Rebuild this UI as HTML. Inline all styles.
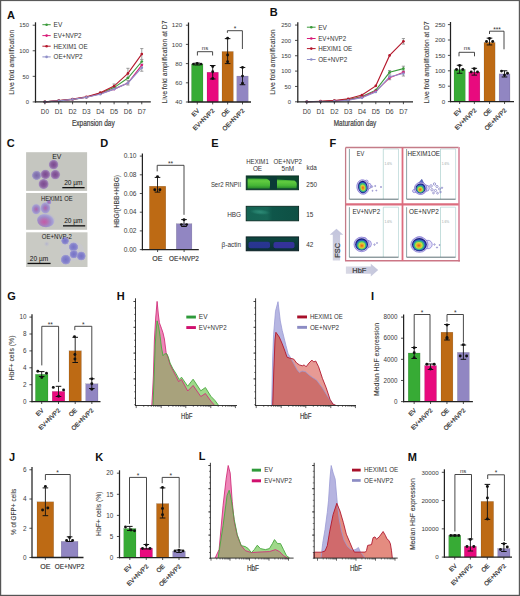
<!DOCTYPE html>
<html><head><meta charset="utf-8"><title>Figure</title>
<style>html,body{margin:0;padding:0;background:#fff;width:520px;height:596px;overflow:hidden}
svg{display:block}text{font-family:"Liberation Sans",sans-serif}</style></head>
<body>
<svg width="520" height="596" viewBox="0 0 520 596" font-family="Liberation Sans, sans-serif">
<rect x="0" y="0" width="520" height="596" fill="#fff" stroke="none" stroke-width="0"/>
<path d="M44.9 101.9 L58.74 100.88 L72.58 99.34 L86.42 97.3 L100.26 93.21 L114.1 87.58 L127.94 78.02 L141.78 61.51" fill="none" stroke="#3a9a3a" stroke-width="1.1"/>
<path d="M44.9 101.9 L58.74 100.88 L72.58 99.34 L86.42 97.3 L100.26 93.72 L114.1 89.12 L127.94 82.98 L141.78 65.09" fill="none" stroke="#d81b78" stroke-width="1.1"/>
<path d="M44.9 101.9 L58.74 100.62 L72.58 99.09 L86.42 96.79 L100.26 92.7 L114.1 86.05 L127.94 73.42 L141.78 54.09" fill="none" stroke="#b4182c" stroke-width="1.1"/>
<path d="M44.9 101.9 L58.74 100.88 L72.58 99.34 L86.42 97.3 L100.26 94.23 L114.1 89.12 L127.94 82.98 L141.78 67.64" fill="none" stroke="#8f8fc8" stroke-width="1.1"/>
<line x1="141.78" y1="59.46" x2="141.78" y2="48.57" stroke="#777" stroke-width="0.7"/>
<line x1="140.18" y1="59.46" x2="143.38" y2="59.46" stroke="#777" stroke-width="0.7"/>
<line x1="140.18" y1="48.57" x2="143.38" y2="48.57" stroke="#777" stroke-width="0.7"/>
<line x1="141.78" y1="71.22" x2="141.78" y2="64.06" stroke="#777" stroke-width="0.7"/>
<line x1="140.18" y1="71.22" x2="143.38" y2="71.22" stroke="#777" stroke-width="0.7"/>
<line x1="140.18" y1="64.06" x2="143.38" y2="64.06" stroke="#777" stroke-width="0.7"/>
<line x1="127.94" y1="77.36" x2="127.94" y2="68.31" stroke="#777" stroke-width="0.7"/>
<line x1="126.34" y1="77.36" x2="129.54" y2="77.36" stroke="#777" stroke-width="0.7"/>
<line x1="126.34" y1="68.31" x2="129.54" y2="68.31" stroke="#777" stroke-width="0.7"/>
<line x1="127.94" y1="85.03" x2="127.94" y2="80.43" stroke="#777" stroke-width="0.7"/>
<line x1="126.34" y1="85.03" x2="129.54" y2="85.03" stroke="#777" stroke-width="0.7"/>
<line x1="126.34" y1="80.43" x2="129.54" y2="80.43" stroke="#777" stroke-width="0.7"/>
<line x1="114.1" y1="87.58" x2="114.1" y2="84" stroke="#777" stroke-width="0.7"/>
<line x1="112.5" y1="87.58" x2="115.7" y2="87.58" stroke="#777" stroke-width="0.7"/>
<line x1="112.5" y1="84" x2="115.7" y2="84" stroke="#777" stroke-width="0.7"/>
<circle cx="44.9" cy="101.9" r="1.35" fill="#3a9a3a"/>
<circle cx="58.74" cy="100.88" r="1.35" fill="#3a9a3a"/>
<circle cx="72.58" cy="99.34" r="1.35" fill="#3a9a3a"/>
<circle cx="86.42" cy="97.3" r="1.35" fill="#3a9a3a"/>
<circle cx="100.26" cy="93.21" r="1.35" fill="#3a9a3a"/>
<circle cx="114.1" cy="87.58" r="1.35" fill="#3a9a3a"/>
<circle cx="127.94" cy="78.02" r="1.35" fill="#3a9a3a"/>
<circle cx="141.78" cy="61.51" r="1.35" fill="#3a9a3a"/>
<circle cx="44.9" cy="101.9" r="1.35" fill="#d81b78"/>
<circle cx="58.74" cy="100.88" r="1.35" fill="#d81b78"/>
<circle cx="72.58" cy="99.34" r="1.35" fill="#d81b78"/>
<circle cx="86.42" cy="97.3" r="1.35" fill="#d81b78"/>
<circle cx="100.26" cy="93.72" r="1.35" fill="#d81b78"/>
<circle cx="114.1" cy="89.12" r="1.35" fill="#d81b78"/>
<circle cx="127.94" cy="82.98" r="1.35" fill="#d81b78"/>
<circle cx="141.78" cy="65.09" r="1.35" fill="#d81b78"/>
<circle cx="44.9" cy="101.9" r="1.35" fill="#b4182c"/>
<circle cx="58.74" cy="100.62" r="1.35" fill="#b4182c"/>
<circle cx="72.58" cy="99.09" r="1.35" fill="#b4182c"/>
<circle cx="86.42" cy="96.79" r="1.35" fill="#b4182c"/>
<circle cx="100.26" cy="92.7" r="1.35" fill="#b4182c"/>
<circle cx="114.1" cy="86.05" r="1.35" fill="#b4182c"/>
<circle cx="127.94" cy="73.42" r="1.35" fill="#b4182c"/>
<circle cx="141.78" cy="54.09" r="1.35" fill="#b4182c"/>
<circle cx="44.9" cy="101.9" r="1.35" fill="#8f8fc8"/>
<circle cx="58.74" cy="100.88" r="1.35" fill="#8f8fc8"/>
<circle cx="72.58" cy="99.34" r="1.35" fill="#8f8fc8"/>
<circle cx="86.42" cy="97.3" r="1.35" fill="#8f8fc8"/>
<circle cx="100.26" cy="94.23" r="1.35" fill="#8f8fc8"/>
<circle cx="114.1" cy="89.12" r="1.35" fill="#8f8fc8"/>
<circle cx="127.94" cy="82.98" r="1.35" fill="#8f8fc8"/>
<circle cx="141.78" cy="67.64" r="1.35" fill="#8f8fc8"/>
<line x1="35.5" y1="22.3" x2="35.5" y2="102.5" stroke="#222" stroke-width="1.25"/>
<line x1="34.9" y1="101.9" x2="150.8" y2="101.9" stroke="#222" stroke-width="1.3"/>
<line x1="32.7" y1="101.9" x2="35.5" y2="101.9" stroke="#222" stroke-width="0.8"/>
<text x="29" y="104.1" font-size="6.2" text-anchor="end" fill="#3a3a3a" font-weight="normal" textLength="3.25" lengthAdjust="spacingAndGlyphs">0</text>
<line x1="32.7" y1="76.34" x2="35.5" y2="76.34" stroke="#222" stroke-width="0.8"/>
<text x="29" y="78.54" font-size="6.2" text-anchor="end" fill="#3a3a3a" font-weight="normal" textLength="6.5" lengthAdjust="spacingAndGlyphs">50</text>
<line x1="32.7" y1="50.77" x2="35.5" y2="50.77" stroke="#222" stroke-width="0.8"/>
<text x="29" y="52.97" font-size="6.2" text-anchor="end" fill="#3a3a3a" font-weight="normal" textLength="9.75" lengthAdjust="spacingAndGlyphs">100</text>
<line x1="32.7" y1="25.21" x2="35.5" y2="25.21" stroke="#222" stroke-width="0.8"/>
<text x="29" y="27.41" font-size="6.2" text-anchor="end" fill="#3a3a3a" font-weight="normal" textLength="9.75" lengthAdjust="spacingAndGlyphs">150</text>
<line x1="44.9" y1="101.9" x2="44.9" y2="104.3" stroke="#222" stroke-width="0.8"/>
<text x="44.9" y="113.7" font-size="6.4" text-anchor="middle" fill="#3a3a3a" font-weight="normal">D0</text>
<line x1="58.74" y1="101.9" x2="58.74" y2="104.3" stroke="#222" stroke-width="0.8"/>
<text x="58.74" y="113.7" font-size="6.4" text-anchor="middle" fill="#3a3a3a" font-weight="normal">D1</text>
<line x1="72.58" y1="101.9" x2="72.58" y2="104.3" stroke="#222" stroke-width="0.8"/>
<text x="72.58" y="113.7" font-size="6.4" text-anchor="middle" fill="#3a3a3a" font-weight="normal">D2</text>
<line x1="86.42" y1="101.9" x2="86.42" y2="104.3" stroke="#222" stroke-width="0.8"/>
<text x="86.42" y="113.7" font-size="6.4" text-anchor="middle" fill="#3a3a3a" font-weight="normal">D3</text>
<line x1="100.26" y1="101.9" x2="100.26" y2="104.3" stroke="#222" stroke-width="0.8"/>
<text x="100.26" y="113.7" font-size="6.4" text-anchor="middle" fill="#3a3a3a" font-weight="normal">D4</text>
<line x1="114.1" y1="101.9" x2="114.1" y2="104.3" stroke="#222" stroke-width="0.8"/>
<text x="114.1" y="113.7" font-size="6.4" text-anchor="middle" fill="#3a3a3a" font-weight="normal">D5</text>
<line x1="127.94" y1="101.9" x2="127.94" y2="104.3" stroke="#222" stroke-width="0.8"/>
<text x="127.94" y="113.7" font-size="6.4" text-anchor="middle" fill="#3a3a3a" font-weight="normal">D6</text>
<line x1="141.78" y1="101.9" x2="141.78" y2="104.3" stroke="#222" stroke-width="0.8"/>
<text x="141.78" y="113.7" font-size="6.4" text-anchor="middle" fill="#3a3a3a" font-weight="normal">D7</text>
<line x1="42.4" y1="24.7" x2="50.7" y2="24.7" stroke="#3a9a3a" stroke-width="1"/>
<circle cx="46.6" cy="24.7" r="1.3" fill="#3a9a3a"/>
<text x="53.6" y="27.05" font-size="6.5" text-anchor="start" fill="#333" font-weight="normal">EV</text>
<line x1="42.4" y1="35.6" x2="50.7" y2="35.6" stroke="#d81b78" stroke-width="1"/>
<circle cx="46.6" cy="35.6" r="1.3" fill="#d81b78"/>
<text x="53.6" y="37.95" font-size="6.5" text-anchor="start" fill="#333" font-weight="normal" textLength="27.9" lengthAdjust="spacingAndGlyphs">EV+NVP2</text>
<line x1="42.4" y1="46.2" x2="50.7" y2="46.2" stroke="#b4182c" stroke-width="1"/>
<circle cx="46.6" cy="46.2" r="1.3" fill="#b4182c"/>
<text x="53.6" y="48.55" font-size="6.5" text-anchor="start" fill="#333" font-weight="normal" textLength="34" lengthAdjust="spacingAndGlyphs">HEXIM1 OE</text>
<line x1="42.4" y1="56.9" x2="50.7" y2="56.9" stroke="#8f8fc8" stroke-width="1"/>
<circle cx="46.6" cy="56.9" r="1.3" fill="#8f8fc8"/>
<text x="53.6" y="59.25" font-size="6.5" text-anchor="start" fill="#333" font-weight="normal" textLength="29" lengthAdjust="spacingAndGlyphs">OE+NVP2</text>
<text x="93.3" y="125.5" font-size="8.6" text-anchor="middle" fill="#444" font-weight="normal" textLength="42.7" lengthAdjust="spacingAndGlyphs" stroke="#444" stroke-width="0.24">Expansion day</text>
<text transform="translate(13.6,62.3) rotate(-90)" font-size="8" text-anchor="middle" fill="#3a3a3a" font-weight="normal" textLength="65" lengthAdjust="spacingAndGlyphs" stroke="#3a3a3a" stroke-width="0.1">Live fold amplification</text>
<text x="7" y="18.6" font-size="11" text-anchor="start" fill="#111" font-weight="bold">A</text>
<path d="M306.8 101.8 L320.6 101.49 L334.4 100.88 L348.2 99.65 L362 96.58 L375.8 90.13 L389.6 72.33 L403.4 68.64" fill="none" stroke="#3a9a3a" stroke-width="1.1"/>
<path d="M306.8 101.8 L320.6 101.49 L334.4 100.88 L348.2 99.96 L362 97.19 L375.8 91.05 L389.6 77.85 L403.4 72.33" fill="none" stroke="#d81b78" stroke-width="1.1"/>
<path d="M306.8 101.8 L320.6 101.19 L334.4 100.57 L348.2 98.73 L362 95.05 L375.8 85.84 L389.6 55.44 L403.4 41.32" fill="none" stroke="#b4182c" stroke-width="1.1"/>
<path d="M306.8 101.8 L320.6 101.49 L334.4 101.19 L348.2 100.27 L362 97.81 L375.8 91.98 L389.6 76.63 L403.4 73.56" fill="none" stroke="#8f8fc8" stroke-width="1.1"/>
<line x1="403.4" y1="44.08" x2="403.4" y2="38.56" stroke="#777" stroke-width="0.7"/>
<line x1="401.8" y1="44.08" x2="405" y2="44.08" stroke="#777" stroke-width="0.7"/>
<line x1="401.8" y1="38.56" x2="405" y2="38.56" stroke="#777" stroke-width="0.7"/>
<line x1="403.4" y1="71.1" x2="403.4" y2="66.19" stroke="#777" stroke-width="0.7"/>
<line x1="401.8" y1="71.1" x2="405" y2="71.1" stroke="#777" stroke-width="0.7"/>
<line x1="401.8" y1="66.19" x2="405" y2="66.19" stroke="#777" stroke-width="0.7"/>
<line x1="403.4" y1="76.01" x2="403.4" y2="71.1" stroke="#777" stroke-width="0.7"/>
<line x1="401.8" y1="76.01" x2="405" y2="76.01" stroke="#777" stroke-width="0.7"/>
<line x1="401.8" y1="71.1" x2="405" y2="71.1" stroke="#777" stroke-width="0.7"/>
<line x1="389.6" y1="74.17" x2="389.6" y2="70.49" stroke="#777" stroke-width="0.7"/>
<line x1="388" y1="74.17" x2="391.2" y2="74.17" stroke="#777" stroke-width="0.7"/>
<line x1="388" y1="70.49" x2="391.2" y2="70.49" stroke="#777" stroke-width="0.7"/>
<line x1="389.6" y1="79.7" x2="389.6" y2="76.01" stroke="#777" stroke-width="0.7"/>
<line x1="388" y1="79.7" x2="391.2" y2="79.7" stroke="#777" stroke-width="0.7"/>
<line x1="388" y1="76.01" x2="391.2" y2="76.01" stroke="#777" stroke-width="0.7"/>
<circle cx="306.8" cy="101.8" r="1.35" fill="#3a9a3a"/>
<circle cx="320.6" cy="101.49" r="1.35" fill="#3a9a3a"/>
<circle cx="334.4" cy="100.88" r="1.35" fill="#3a9a3a"/>
<circle cx="348.2" cy="99.65" r="1.35" fill="#3a9a3a"/>
<circle cx="362" cy="96.58" r="1.35" fill="#3a9a3a"/>
<circle cx="375.8" cy="90.13" r="1.35" fill="#3a9a3a"/>
<circle cx="389.6" cy="72.33" r="1.35" fill="#3a9a3a"/>
<circle cx="403.4" cy="68.64" r="1.35" fill="#3a9a3a"/>
<circle cx="306.8" cy="101.8" r="1.35" fill="#d81b78"/>
<circle cx="320.6" cy="101.49" r="1.35" fill="#d81b78"/>
<circle cx="334.4" cy="100.88" r="1.35" fill="#d81b78"/>
<circle cx="348.2" cy="99.96" r="1.35" fill="#d81b78"/>
<circle cx="362" cy="97.19" r="1.35" fill="#d81b78"/>
<circle cx="375.8" cy="91.05" r="1.35" fill="#d81b78"/>
<circle cx="389.6" cy="77.85" r="1.35" fill="#d81b78"/>
<circle cx="403.4" cy="72.33" r="1.35" fill="#d81b78"/>
<circle cx="306.8" cy="101.8" r="1.35" fill="#b4182c"/>
<circle cx="320.6" cy="101.19" r="1.35" fill="#b4182c"/>
<circle cx="334.4" cy="100.57" r="1.35" fill="#b4182c"/>
<circle cx="348.2" cy="98.73" r="1.35" fill="#b4182c"/>
<circle cx="362" cy="95.05" r="1.35" fill="#b4182c"/>
<circle cx="375.8" cy="85.84" r="1.35" fill="#b4182c"/>
<circle cx="389.6" cy="55.44" r="1.35" fill="#b4182c"/>
<circle cx="403.4" cy="41.32" r="1.35" fill="#b4182c"/>
<circle cx="306.8" cy="101.8" r="1.35" fill="#8f8fc8"/>
<circle cx="320.6" cy="101.49" r="1.35" fill="#8f8fc8"/>
<circle cx="334.4" cy="101.19" r="1.35" fill="#8f8fc8"/>
<circle cx="348.2" cy="100.27" r="1.35" fill="#8f8fc8"/>
<circle cx="362" cy="97.81" r="1.35" fill="#8f8fc8"/>
<circle cx="375.8" cy="91.98" r="1.35" fill="#8f8fc8"/>
<circle cx="389.6" cy="76.63" r="1.35" fill="#8f8fc8"/>
<circle cx="403.4" cy="73.56" r="1.35" fill="#8f8fc8"/>
<line x1="297.8" y1="22.2" x2="297.8" y2="102.4" stroke="#222" stroke-width="1.25"/>
<line x1="297.2" y1="101.8" x2="413" y2="101.8" stroke="#222" stroke-width="1.3"/>
<line x1="295" y1="101.8" x2="297.8" y2="101.8" stroke="#222" stroke-width="0.8"/>
<text x="290.9" y="104" font-size="6.2" text-anchor="end" fill="#3a3a3a" font-weight="normal" textLength="3.25" lengthAdjust="spacingAndGlyphs">0</text>
<line x1="295" y1="86.45" x2="297.8" y2="86.45" stroke="#222" stroke-width="0.8"/>
<text x="290.9" y="88.65" font-size="6.2" text-anchor="end" fill="#3a3a3a" font-weight="normal" textLength="6.5" lengthAdjust="spacingAndGlyphs">50</text>
<line x1="295" y1="71.1" x2="297.8" y2="71.1" stroke="#222" stroke-width="0.8"/>
<text x="290.9" y="73.3" font-size="6.2" text-anchor="end" fill="#3a3a3a" font-weight="normal" textLength="9.75" lengthAdjust="spacingAndGlyphs">100</text>
<line x1="295" y1="55.75" x2="297.8" y2="55.75" stroke="#222" stroke-width="0.8"/>
<text x="290.9" y="57.95" font-size="6.2" text-anchor="end" fill="#3a3a3a" font-weight="normal" textLength="9.75" lengthAdjust="spacingAndGlyphs">150</text>
<line x1="295" y1="40.4" x2="297.8" y2="40.4" stroke="#222" stroke-width="0.8"/>
<text x="290.9" y="42.6" font-size="6.2" text-anchor="end" fill="#3a3a3a" font-weight="normal" textLength="9.75" lengthAdjust="spacingAndGlyphs">200</text>
<line x1="295" y1="25.05" x2="297.8" y2="25.05" stroke="#222" stroke-width="0.8"/>
<text x="290.9" y="27.25" font-size="6.2" text-anchor="end" fill="#3a3a3a" font-weight="normal" textLength="9.75" lengthAdjust="spacingAndGlyphs">250</text>
<line x1="306.8" y1="101.8" x2="306.8" y2="104.2" stroke="#222" stroke-width="0.8"/>
<text x="306.8" y="113.6" font-size="6.4" text-anchor="middle" fill="#3a3a3a" font-weight="normal">D0</text>
<line x1="320.6" y1="101.8" x2="320.6" y2="104.2" stroke="#222" stroke-width="0.8"/>
<text x="320.6" y="113.6" font-size="6.4" text-anchor="middle" fill="#3a3a3a" font-weight="normal">D1</text>
<line x1="334.4" y1="101.8" x2="334.4" y2="104.2" stroke="#222" stroke-width="0.8"/>
<text x="334.4" y="113.6" font-size="6.4" text-anchor="middle" fill="#3a3a3a" font-weight="normal">D2</text>
<line x1="348.2" y1="101.8" x2="348.2" y2="104.2" stroke="#222" stroke-width="0.8"/>
<text x="348.2" y="113.6" font-size="6.4" text-anchor="middle" fill="#3a3a3a" font-weight="normal">D3</text>
<line x1="362" y1="101.8" x2="362" y2="104.2" stroke="#222" stroke-width="0.8"/>
<text x="362" y="113.6" font-size="6.4" text-anchor="middle" fill="#3a3a3a" font-weight="normal">D4</text>
<line x1="375.8" y1="101.8" x2="375.8" y2="104.2" stroke="#222" stroke-width="0.8"/>
<text x="375.8" y="113.6" font-size="6.4" text-anchor="middle" fill="#3a3a3a" font-weight="normal">D5</text>
<line x1="389.6" y1="101.8" x2="389.6" y2="104.2" stroke="#222" stroke-width="0.8"/>
<text x="389.6" y="113.6" font-size="6.4" text-anchor="middle" fill="#3a3a3a" font-weight="normal">D6</text>
<line x1="403.4" y1="101.8" x2="403.4" y2="104.2" stroke="#222" stroke-width="0.8"/>
<text x="403.4" y="113.6" font-size="6.4" text-anchor="middle" fill="#3a3a3a" font-weight="normal">D7</text>
<line x1="306.9" y1="27.2" x2="315.6" y2="27.2" stroke="#3a9a3a" stroke-width="1"/>
<circle cx="311.3" cy="27.2" r="1.3" fill="#3a9a3a"/>
<text x="318.2" y="29.55" font-size="6.5" text-anchor="start" fill="#333" font-weight="normal">EV</text>
<line x1="306.9" y1="38.5" x2="315.6" y2="38.5" stroke="#d81b78" stroke-width="1"/>
<circle cx="311.3" cy="38.5" r="1.3" fill="#d81b78"/>
<text x="318.2" y="40.85" font-size="6.5" text-anchor="start" fill="#333" font-weight="normal" textLength="27.9" lengthAdjust="spacingAndGlyphs">EV+NVP2</text>
<line x1="306.9" y1="48.6" x2="315.6" y2="48.6" stroke="#b4182c" stroke-width="1"/>
<circle cx="311.3" cy="48.6" r="1.3" fill="#b4182c"/>
<text x="318.2" y="50.95" font-size="6.5" text-anchor="start" fill="#333" font-weight="normal" textLength="34" lengthAdjust="spacingAndGlyphs">HEXIM1 OE</text>
<line x1="306.9" y1="59.5" x2="315.6" y2="59.5" stroke="#8f8fc8" stroke-width="1"/>
<circle cx="311.3" cy="59.5" r="1.3" fill="#8f8fc8"/>
<text x="318.2" y="61.85" font-size="6.5" text-anchor="start" fill="#333" font-weight="normal" textLength="29" lengthAdjust="spacingAndGlyphs">OE+NVP2</text>
<text x="355" y="125.5" font-size="8.6" text-anchor="middle" fill="#444" font-weight="normal" textLength="42.5" lengthAdjust="spacingAndGlyphs" stroke="#444" stroke-width="0.24">Maturation day</text>
<text transform="translate(275.3,62.1) rotate(-90)" font-size="8" text-anchor="middle" fill="#3a3a3a" font-weight="normal" textLength="65.4" lengthAdjust="spacingAndGlyphs" stroke="#3a3a3a" stroke-width="0.1">Live fold amplification</text>
<text x="269.8" y="15.9" font-size="11" text-anchor="start" fill="#111" font-weight="bold">B</text>
<rect x="191.5" y="63.98" width="11.5" height="38.02" fill="#37ab35" stroke="rgba(0,0,0,0.25)" stroke-width="0.4"/>
<rect x="207" y="72.24" width="11.4" height="29.76" fill="#e80a7e" stroke="rgba(0,0,0,0.25)" stroke-width="0.4"/>
<rect x="222" y="51.5" width="11.3" height="50.5" fill="#bd6a14" stroke="rgba(0,0,0,0.25)" stroke-width="0.4"/>
<rect x="236.8" y="76.08" width="11.4" height="25.92" fill="#9186c2" stroke="rgba(0,0,0,0.25)" stroke-width="0.4"/>
<line x1="197.2" y1="63.12" x2="197.2" y2="65.04" stroke="#111" stroke-width="0.9"/>
<line x1="194.4" y1="63.12" x2="200" y2="63.12" stroke="#111" stroke-width="1"/>
<line x1="194.4" y1="65.04" x2="200" y2="65.04" stroke="#111" stroke-width="1"/>
<circle cx="193.5" cy="64.08" r="1.45" fill="#111"/>
<circle cx="197.2" cy="63.41" r="1.45" fill="#111"/>
<circle cx="201" cy="64.08" r="1.45" fill="#111"/>
<line x1="212.7" y1="65.52" x2="212.7" y2="78.96" stroke="#111" stroke-width="0.9"/>
<line x1="209.9" y1="65.52" x2="215.5" y2="65.52" stroke="#111" stroke-width="1"/>
<line x1="209.9" y1="78.96" x2="215.5" y2="78.96" stroke="#111" stroke-width="1"/>
<circle cx="212.7" cy="66.48" r="1.45" fill="#111"/>
<circle cx="212.7" cy="71.76" r="1.45" fill="#111"/>
<circle cx="212.7" cy="78.48" r="1.45" fill="#111"/>
<line x1="227.6" y1="38.64" x2="227.6" y2="63.6" stroke="#111" stroke-width="0.9"/>
<line x1="224.8" y1="38.64" x2="230.4" y2="38.64" stroke="#111" stroke-width="1"/>
<line x1="224.8" y1="63.6" x2="230.4" y2="63.6" stroke="#111" stroke-width="1"/>
<circle cx="227.6" cy="38.16" r="1.45" fill="#111"/>
<circle cx="227.6" cy="54.96" r="1.45" fill="#111"/>
<circle cx="227.6" cy="61.68" r="1.45" fill="#111"/>
<line x1="242.5" y1="67.44" x2="242.5" y2="84.72" stroke="#111" stroke-width="0.9"/>
<line x1="239.7" y1="67.44" x2="245.3" y2="67.44" stroke="#111" stroke-width="1"/>
<line x1="239.7" y1="84.72" x2="245.3" y2="84.72" stroke="#111" stroke-width="1"/>
<circle cx="242.5" cy="67.44" r="1.45" fill="#111"/>
<circle cx="242.5" cy="76.08" r="1.45" fill="#111"/>
<circle cx="242.5" cy="83.28" r="1.45" fill="#111"/>
<line x1="188.5" y1="22.5" x2="188.5" y2="102.6" stroke="#222" stroke-width="1.25"/>
<line x1="187.9" y1="102" x2="251" y2="102" stroke="#222" stroke-width="1.3"/>
<line x1="185.9" y1="102" x2="188.5" y2="102" stroke="#222" stroke-width="0.8"/>
<text x="182.2" y="104.25" font-size="6.2" text-anchor="end" fill="#3a3a3a" font-weight="normal">40</text>
<line x1="185.9" y1="82.8" x2="188.5" y2="82.8" stroke="#222" stroke-width="0.8"/>
<text x="182.2" y="85.05" font-size="6.2" text-anchor="end" fill="#3a3a3a" font-weight="normal">60</text>
<line x1="185.9" y1="63.6" x2="188.5" y2="63.6" stroke="#222" stroke-width="0.8"/>
<text x="182.2" y="65.85" font-size="6.2" text-anchor="end" fill="#3a3a3a" font-weight="normal">80</text>
<line x1="185.9" y1="44.4" x2="188.5" y2="44.4" stroke="#222" stroke-width="0.8"/>
<text x="182.2" y="46.65" font-size="6.2" text-anchor="end" fill="#3a3a3a" font-weight="normal">100</text>
<line x1="185.9" y1="25.2" x2="188.5" y2="25.2" stroke="#222" stroke-width="0.8"/>
<text x="182.2" y="27.45" font-size="6.2" text-anchor="end" fill="#3a3a3a" font-weight="normal">120</text>
<line x1="197.25" y1="102" x2="197.25" y2="104.4" stroke="#222" stroke-width="0.8"/>
<line x1="212.7" y1="102" x2="212.7" y2="104.4" stroke="#222" stroke-width="0.8"/>
<line x1="227.65" y1="102" x2="227.65" y2="104.4" stroke="#222" stroke-width="0.8"/>
<line x1="242.5" y1="102" x2="242.5" y2="104.4" stroke="#222" stroke-width="0.8"/>
<path d="M197.4 55.5 L197.4 51.7 L212.6 51.7 L212.6 55.5" fill="none" stroke="#333" stroke-width="0.9"/>
<text x="205" y="49.8" font-size="6" text-anchor="middle" fill="#333" font-weight="normal">ns</text>
<path d="M227.4 32.8 L227.4 30.7 L242.4 30.7 L242.4 49" fill="none" stroke="#333" stroke-width="0.9"/>
<text x="235" y="31.2" font-size="6.6" text-anchor="middle" fill="#333" font-weight="normal">*</text>
<text transform="translate(199.8,111.2) rotate(-45)" font-size="6.1" text-anchor="end" fill="#333" font-weight="normal" stroke="#333" stroke-width="0.2">EV</text>
<text transform="translate(214.8,111.2) rotate(-45)" font-size="6.1" text-anchor="end" fill="#333" font-weight="normal" stroke="#333" stroke-width="0.2">EV+NVP2</text>
<text transform="translate(229.9,111.2) rotate(-45)" font-size="6.1" text-anchor="end" fill="#333" font-weight="normal" stroke="#333" stroke-width="0.2">OE</text>
<text transform="translate(244.8,111.2) rotate(-45)" font-size="6.1" text-anchor="end" fill="#333" font-weight="normal" stroke="#333" stroke-width="0.2">OE+NVP2</text>
<text transform="translate(166.7,62) rotate(-90)" font-size="8" text-anchor="middle" fill="#3a3a3a" font-weight="normal" textLength="83" lengthAdjust="spacingAndGlyphs" stroke="#3a3a3a" stroke-width="0.1">Live fold amplification at D7</text>
<rect x="454" y="69.57" width="11.3" height="32.03" fill="#37ab35" stroke="rgba(0,0,0,0.25)" stroke-width="0.4"/>
<rect x="468.8" y="72.03" width="11.1" height="29.57" fill="#e80a7e" stroke="rgba(0,0,0,0.25)" stroke-width="0.4"/>
<rect x="484" y="42.46" width="11.1" height="59.14" fill="#bd6a14" stroke="rgba(0,0,0,0.25)" stroke-width="0.4"/>
<rect x="499.1" y="73.88" width="10.9" height="27.72" fill="#9186c2" stroke="rgba(0,0,0,0.25)" stroke-width="0.4"/>
<line x1="459.6" y1="65.26" x2="459.6" y2="73.26" stroke="#111" stroke-width="0.9"/>
<line x1="456.8" y1="65.26" x2="462.4" y2="65.26" stroke="#111" stroke-width="1"/>
<line x1="456.8" y1="73.26" x2="462.4" y2="73.26" stroke="#111" stroke-width="1"/>
<circle cx="459.6" cy="65.56" r="1.45" fill="#111"/>
<circle cx="456.5" cy="69.57" r="1.45" fill="#111"/>
<circle cx="462.8" cy="69.57" r="1.45" fill="#111"/>
<line x1="474.3" y1="68.34" x2="474.3" y2="75.11" stroke="#111" stroke-width="0.9"/>
<line x1="471.5" y1="68.34" x2="477.1" y2="68.34" stroke="#111" stroke-width="1"/>
<line x1="471.5" y1="75.11" x2="477.1" y2="75.11" stroke="#111" stroke-width="1"/>
<circle cx="474.3" cy="68.64" r="1.45" fill="#111"/>
<circle cx="471.2" cy="72.03" r="1.45" fill="#111"/>
<circle cx="477.5" cy="72.03" r="1.45" fill="#111"/>
<line x1="489.5" y1="38.15" x2="489.5" y2="44.93" stroke="#111" stroke-width="0.9"/>
<line x1="486.7" y1="38.15" x2="492.3" y2="38.15" stroke="#111" stroke-width="1"/>
<line x1="486.7" y1="44.93" x2="492.3" y2="44.93" stroke="#111" stroke-width="1"/>
<circle cx="489.5" cy="38.46" r="1.45" fill="#111"/>
<circle cx="486.5" cy="41.54" r="1.45" fill="#111"/>
<circle cx="492.7" cy="41.54" r="1.45" fill="#111"/>
<line x1="504.5" y1="70.8" x2="504.5" y2="76.96" stroke="#111" stroke-width="0.9"/>
<line x1="501.7" y1="70.8" x2="507.3" y2="70.8" stroke="#111" stroke-width="1"/>
<line x1="501.7" y1="76.96" x2="507.3" y2="76.96" stroke="#111" stroke-width="1"/>
<circle cx="501.5" cy="71.11" r="1.45" fill="#111"/>
<circle cx="507.5" cy="73.26" r="1.45" fill="#111"/>
<circle cx="504.5" cy="75.11" r="1.45" fill="#111"/>
<line x1="450.5" y1="22" x2="450.5" y2="102.2" stroke="#222" stroke-width="1.25"/>
<line x1="449.9" y1="101.6" x2="514" y2="101.6" stroke="#222" stroke-width="1.3"/>
<line x1="447.9" y1="101.6" x2="450.5" y2="101.6" stroke="#222" stroke-width="0.8"/>
<text x="445.3" y="103.85" font-size="6.2" text-anchor="end" fill="#3a3a3a" font-weight="normal">0</text>
<line x1="447.9" y1="86.2" x2="450.5" y2="86.2" stroke="#222" stroke-width="0.8"/>
<text x="445.3" y="88.45" font-size="6.2" text-anchor="end" fill="#3a3a3a" font-weight="normal">50</text>
<line x1="447.9" y1="70.8" x2="450.5" y2="70.8" stroke="#222" stroke-width="0.8"/>
<text x="445.3" y="73.05" font-size="6.2" text-anchor="end" fill="#3a3a3a" font-weight="normal">100</text>
<line x1="447.9" y1="55.4" x2="450.5" y2="55.4" stroke="#222" stroke-width="0.8"/>
<text x="445.3" y="57.65" font-size="6.2" text-anchor="end" fill="#3a3a3a" font-weight="normal">150</text>
<line x1="447.9" y1="40" x2="450.5" y2="40" stroke="#222" stroke-width="0.8"/>
<text x="445.3" y="42.25" font-size="6.2" text-anchor="end" fill="#3a3a3a" font-weight="normal">200</text>
<line x1="447.9" y1="24.6" x2="450.5" y2="24.6" stroke="#222" stroke-width="0.8"/>
<text x="445.3" y="26.85" font-size="6.2" text-anchor="end" fill="#3a3a3a" font-weight="normal">250</text>
<line x1="459.65" y1="101.6" x2="459.65" y2="104" stroke="#222" stroke-width="0.8"/>
<line x1="474.35" y1="101.6" x2="474.35" y2="104" stroke="#222" stroke-width="0.8"/>
<line x1="489.55" y1="101.6" x2="489.55" y2="104" stroke="#222" stroke-width="0.8"/>
<line x1="504.55" y1="101.6" x2="504.55" y2="104" stroke="#222" stroke-width="0.8"/>
<path d="M459 56.3 L459 52.3 L474.5 52.3 L474.5 56.3" fill="none" stroke="#333" stroke-width="0.9"/>
<text x="467" y="50.2" font-size="6" text-anchor="middle" fill="#333" font-weight="normal">ns</text>
<path d="M489.5 34 L489.5 31.2 L504 31.2 L504 49.3" fill="none" stroke="#333" stroke-width="0.9"/>
<text x="497" y="31.6" font-size="6.6" text-anchor="middle" fill="#333" font-weight="normal">***</text>
<text transform="translate(462.1,110.8) rotate(-45)" font-size="6.1" text-anchor="end" fill="#333" font-weight="normal" stroke="#333" stroke-width="0.2">EV</text>
<text transform="translate(476.8,110.8) rotate(-45)" font-size="6.1" text-anchor="end" fill="#333" font-weight="normal" stroke="#333" stroke-width="0.2">EV+NVP2</text>
<text transform="translate(492,110.8) rotate(-45)" font-size="6.1" text-anchor="end" fill="#333" font-weight="normal" stroke="#333" stroke-width="0.2">OE</text>
<text transform="translate(507,110.8) rotate(-45)" font-size="6.1" text-anchor="end" fill="#333" font-weight="normal" stroke="#333" stroke-width="0.2">OE+NVP2</text>
<text transform="translate(428.6,62.5) rotate(-90)" font-size="8" text-anchor="middle" fill="#3a3a3a" font-weight="normal" textLength="82" lengthAdjust="spacingAndGlyphs" stroke="#3a3a3a" stroke-width="0.1">Live fold amplification at D7</text>
<text x="6.8" y="147.2" font-size="11" text-anchor="start" fill="#111" font-weight="bold">C</text>
<defs>
<radialGradient id="cellA" cx="50%" cy="50%" r="50%">
 <stop offset="0" stop-color="#7a4a90"/><stop offset="0.55" stop-color="#8a5e9e"/><stop offset="0.85" stop-color="#a086b8"/><stop offset="1" stop-color="#b4a6c6" stop-opacity="0.5"/></radialGradient>
<radialGradient id="cellB" cx="50%" cy="50%" r="50%">
 <stop offset="0" stop-color="#7a68a8"/><stop offset="0.6" stop-color="#8a7cb6"/><stop offset="0.9" stop-color="#a49ec6"/><stop offset="1" stop-color="#b6b2ca" stop-opacity="0.5"/></radialGradient>
<radialGradient id="cellH" cx="40%" cy="62%" r="60%">
 <stop offset="0" stop-color="#c45aa8"/><stop offset="0.3" stop-color="#b470b2"/><stop offset="0.6" stop-color="#9e8cc8"/><stop offset="0.85" stop-color="#a8a4d6"/><stop offset="1" stop-color="#b8b6d4" stop-opacity="0.4"/></radialGradient>
<radialGradient id="cellH2" cx="50%" cy="52%" r="50%">
 <stop offset="0" stop-color="#b460aa"/><stop offset="0.4" stop-color="#9c80c0"/><stop offset="0.8" stop-color="#a49ed2"/><stop offset="1" stop-color="#b8b6d0" stop-opacity="0.4"/></radialGradient>
<radialGradient id="cellN" cx="50%" cy="50%" r="50%">
 <stop offset="0" stop-color="#7672c6"/><stop offset="0.6" stop-color="#8582cc"/><stop offset="0.9" stop-color="#a09ed2"/><stop offset="1" stop-color="#bcbad2" stop-opacity="0.4"/></radialGradient>
<radialGradient id="cellF" cx="50%" cy="50%" r="50%">
 <stop offset="0" stop-color="#b2b2cc"/><stop offset="1" stop-color="#c4c4cc" stop-opacity="0"/></radialGradient>
</defs>
<defs><filter id="cb" x="-30%" y="-30%" width="160%" height="160%"><feGaussianBlur stdDeviation="0.55"/></filter></defs>
<rect x="26.1" y="152.2" width="61" height="38.7" fill="#c5c6c0" stroke="none" stroke-width="0"/>
<g filter="url(#cb)">
<circle cx="53.6" cy="164.6" r="5" fill="url(#cellA)"/>
<circle cx="36.6" cy="175.4" r="4.8" fill="url(#cellB)"/>
<circle cx="45.4" cy="174.4" r="5" fill="url(#cellA)"/>
<circle cx="55.3" cy="174.6" r="5" fill="url(#cellA)"/>
<circle cx="43.6" cy="184" r="5.3" fill="url(#cellA)"/>
</g>
<text x="56.8" y="158.8" font-size="6.85" text-anchor="middle" fill="#1a1a1a" font-weight="normal">EV</text>
<text x="73.3" y="185.4" font-size="6.8" text-anchor="middle" fill="#111" font-weight="normal" textLength="18.3" lengthAdjust="spacingAndGlyphs">20 &#181;m</text>
<rect x="62.3" y="187" width="22.3" height="1.3" fill="#111" stroke="none" stroke-width="0"/>
<rect x="26.1" y="193" width="61" height="36.8" fill="#c5c6c0" stroke="none" stroke-width="0"/>
<g filter="url(#cb)">
<ellipse cx="36.2" cy="209" rx="4.9" ry="5.5" fill="url(#cellH2)"/>
<ellipse cx="45.4" cy="207.8" rx="5.2" ry="6" fill="url(#cellH2)"/>
<ellipse cx="48.9" cy="202" rx="2.8" ry="2.8" fill="url(#cellH2)"/>
<ellipse cx="46" cy="220.2" rx="8.8" ry="7" fill="url(#cellH)"/>
</g>
<text x="56.8" y="200.6" font-size="6.85" text-anchor="middle" fill="#1a1a1a" font-weight="normal" textLength="31.5" lengthAdjust="spacingAndGlyphs">HEXIM1 OE</text>
<text x="73.3" y="222.8" font-size="6.8" text-anchor="middle" fill="#111" font-weight="normal" textLength="18.3" lengthAdjust="spacingAndGlyphs">20 &#181;m</text>
<rect x="63" y="225.2" width="22.2" height="1.3" fill="#111" stroke="none" stroke-width="0"/>
<rect x="26.1" y="232.3" width="61.4" height="34.7" fill="#c9cac4" stroke="none" stroke-width="0"/>
<circle cx="46.7" cy="243.9" r="3.2" fill="url(#cellF)"/>
<g filter="url(#cb)">
<ellipse cx="72" cy="251" rx="12" ry="10" fill="#c8c6d6" opacity="0.5"/>
<circle cx="65.1" cy="240.8" r="4" fill="url(#cellN)"/>
<circle cx="73.5" cy="247" r="4.8" fill="url(#cellN)"/>
<circle cx="73.8" cy="254.2" r="4.4" fill="url(#cellN)"/>
<circle cx="81.2" cy="256" r="4.7" fill="url(#cellN)"/>
<circle cx="65.8" cy="259.6" r="5.2" fill="url(#cellN)"/>
</g>
<text x="56.8" y="238.6" font-size="6.85" text-anchor="middle" fill="#1a1a1a" font-weight="normal" textLength="30" lengthAdjust="spacingAndGlyphs">OE+NVP-2</text>
<text x="39" y="261.3" font-size="6.8" text-anchor="middle" fill="#111" font-weight="normal" textLength="18.3" lengthAdjust="spacingAndGlyphs">20 &#181;m</text>
<rect x="27.5" y="262.8" width="23.1" height="1.3" fill="#111" stroke="none" stroke-width="0"/>
<text x="100.3" y="147.2" font-size="11" text-anchor="start" fill="#111" font-weight="bold">D</text>
<rect x="149.4" y="186.21" width="16.4" height="63.39" fill="#bd6a14" stroke="rgba(0,0,0,0.25)" stroke-width="0.4"/>
<rect x="176.3" y="223.7" width="15.6" height="25.9" fill="#9186c2" stroke="rgba(0,0,0,0.25)" stroke-width="0.4"/>
<line x1="157.5" y1="177.4" x2="157.5" y2="192.1" stroke="#111" stroke-width="0.9"/>
<line x1="154.7" y1="177.4" x2="160.3" y2="177.4" stroke="#111" stroke-width="1"/>
<line x1="154.7" y1="192.1" x2="160.3" y2="192.1" stroke="#111" stroke-width="1"/>
<circle cx="157.5" cy="176.6" r="1.45" fill="#111"/>
<circle cx="154.8" cy="189.7" r="1.45" fill="#111"/>
<circle cx="159.9" cy="189.7" r="1.45" fill="#111"/>
<line x1="184" y1="219.6" x2="184" y2="226.5" stroke="#111" stroke-width="0.9"/>
<line x1="181.2" y1="219.6" x2="186.8" y2="219.6" stroke="#111" stroke-width="1"/>
<line x1="181.2" y1="226.5" x2="186.8" y2="226.5" stroke="#111" stroke-width="1"/>
<circle cx="184" cy="219.8" r="1.45" fill="#111"/>
<circle cx="181.4" cy="224.6" r="1.45" fill="#111"/>
<circle cx="186.6" cy="224.6" r="1.45" fill="#111"/>
<line x1="142.4" y1="153.5" x2="142.4" y2="250.2" stroke="#222" stroke-width="1.25"/>
<line x1="141.8" y1="249.6" x2="198.8" y2="249.6" stroke="#222" stroke-width="1.3"/>
<line x1="139.8" y1="249.6" x2="142.4" y2="249.6" stroke="#222" stroke-width="0.8"/>
<text x="136.5" y="251.85" font-size="6.6" text-anchor="end" fill="#3a3a3a" font-weight="normal">0.00</text>
<line x1="139.8" y1="230.9" x2="142.4" y2="230.9" stroke="#222" stroke-width="0.8"/>
<text x="136.5" y="233.15" font-size="6.6" text-anchor="end" fill="#3a3a3a" font-weight="normal">0.02</text>
<line x1="139.8" y1="212.2" x2="142.4" y2="212.2" stroke="#222" stroke-width="0.8"/>
<text x="136.5" y="214.45" font-size="6.6" text-anchor="end" fill="#3a3a3a" font-weight="normal">0.04</text>
<line x1="139.8" y1="193.5" x2="142.4" y2="193.5" stroke="#222" stroke-width="0.8"/>
<text x="136.5" y="195.75" font-size="6.6" text-anchor="end" fill="#3a3a3a" font-weight="normal">0.06</text>
<line x1="139.8" y1="174.8" x2="142.4" y2="174.8" stroke="#222" stroke-width="0.8"/>
<text x="136.5" y="177.05" font-size="6.6" text-anchor="end" fill="#3a3a3a" font-weight="normal">0.08</text>
<line x1="139.8" y1="156.1" x2="142.4" y2="156.1" stroke="#222" stroke-width="0.8"/>
<text x="136.5" y="158.35" font-size="6.6" text-anchor="end" fill="#3a3a3a" font-weight="normal">0.10</text>
<line x1="157.6" y1="249.6" x2="157.6" y2="252" stroke="#222" stroke-width="0.8"/>
<line x1="184.1" y1="249.6" x2="184.1" y2="252" stroke="#222" stroke-width="0.8"/>
<path d="M157.2 171.4 L157.2 165.3 L184 165.3 L184 214.8" fill="none" stroke="#333" stroke-width="0.9"/>
<text x="170.6" y="165.9" font-size="6.6" text-anchor="middle" fill="#333" font-weight="normal">**</text>
<text x="157.3" y="261.4" font-size="7" text-anchor="middle" fill="#333" font-weight="normal" stroke="#333" stroke-width="0.15">OE</text>
<text x="183.9" y="261.4" font-size="7" text-anchor="middle" fill="#333" font-weight="normal" textLength="29.7" lengthAdjust="spacingAndGlyphs" stroke="#333" stroke-width="0.15">OE+NVP2</text>
<text transform="translate(119.4,201.4) rotate(-90)" font-size="7.8" text-anchor="middle" fill="#3a3a3a" font-weight="normal" textLength="52.9" lengthAdjust="spacingAndGlyphs" stroke="#3a3a3a" stroke-width="0.1">HBG/(HBB+HBG)</text>
<text x="211.2" y="147.3" font-size="11" text-anchor="start" fill="#111" font-weight="bold">E</text>
<defs>
<linearGradient id="bandG" x1="0" y1="0" x2="0" y2="1"><stop offset="0" stop-color="#3aa834"/><stop offset="0.25" stop-color="#62cc40"/><stop offset="0.7" stop-color="#46b636"/><stop offset="1" stop-color="#2a8a2c"/></linearGradient>
<linearGradient id="hbgG" x1="0" y1="0" x2="1" y2="0"><stop offset="0" stop-color="#146454"/><stop offset="0.4" stop-color="#176656"/><stop offset="0.5" stop-color="#0f564a"/><stop offset="1" stop-color="#0e5044"/></linearGradient>
<radialGradient id="hbgBand" cx="50%" cy="50%" r="50%"><stop offset="0" stop-color="#2f8c78"/><stop offset="0.6" stop-color="#24806c" stop-opacity="0.7"/><stop offset="1" stop-color="#1c7060" stop-opacity="0"/></radialGradient>
<radialGradient id="actB" cx="50%" cy="50%" r="50%"><stop offset="0" stop-color="#3430a8"/><stop offset="0.75" stop-color="#2c3296"/><stop offset="1" stop-color="#1c3a6a" stop-opacity="0"/></radialGradient>
</defs>
<text x="257.5" y="163.6" font-size="6.4" text-anchor="middle" fill="#333" font-weight="normal" textLength="22.5" lengthAdjust="spacingAndGlyphs">HEXIM1</text>
<text x="257.5" y="171" font-size="6.4" text-anchor="middle" fill="#333" font-weight="normal">OE</text>
<text x="287.8" y="163.6" font-size="6.4" text-anchor="middle" fill="#333" font-weight="normal" textLength="28.5" lengthAdjust="spacingAndGlyphs">OE+NVP2</text>
<text x="287.8" y="171" font-size="6.4" text-anchor="middle" fill="#333" font-weight="normal">5nM</text>
<text x="311.7" y="169.6" font-size="6.4" text-anchor="middle" fill="#333" font-weight="normal">kda</text>
<rect x="246.2" y="175.9" width="52.4" height="13.9" fill="#0c4630" stroke="#082a20" stroke-width="0.8"/>
<path d="M247.6 178.4 L266.5 178.8 Q270.2 180 270.3 183 L269.6 188.4 L247.6 188.4 Z" fill="url(#bandG)"/>
<rect x="270" y="176.3" width="7" height="13.2" fill="#0a3a36"/>
<path d="M277.0 179.6 L294.5 180.4 Q297 182 296.8 184 L296.5 188.2 L277.0 188.2 Z" fill="url(#bandG)"/>
<text x="241.1" y="187" font-size="6.4" text-anchor="end" fill="#333" font-weight="normal" textLength="30.2" lengthAdjust="spacingAndGlyphs">Ser2 RNPII</text>
<text x="311.7" y="187" font-size="6.4" text-anchor="middle" fill="#333" font-weight="normal">250</text>
<rect x="246.2" y="206.3" width="52.4" height="14.5" fill="url(#hbgG)" stroke="none" stroke-width="0"/>
<ellipse cx="260" cy="212.0" rx="10.5" ry="3.0" fill="url(#hbgBand)" transform="rotate(5 260 212)"/>
<rect x="246.2" y="206.3" width="52.4" height="14.5" fill="none" stroke="#082a22" stroke-width="0.9"/>
<text x="241.1" y="216.6" font-size="6.4" text-anchor="end" fill="#333" font-weight="normal">HBG</text>
<text x="309.7" y="216.6" font-size="6.4" text-anchor="middle" fill="#333" font-weight="normal">15</text>
<defs><linearGradient id="actBg" x1="0" y1="0" x2="0" y2="1"><stop offset="0" stop-color="#0e4840"/><stop offset="1" stop-color="#0b2e36"/></linearGradient></defs>
<rect x="246.2" y="236.9" width="52.4" height="13.9" fill="url(#actBg)" stroke="none" stroke-width="0"/>
<g filter="url(#cb)" opacity="0.85"><rect x="248.5" y="241.8" width="21.5" height="6.4" rx="2" fill="#2e34a0"/><rect x="273.5" y="242.0" width="21" height="6.2" rx="2" fill="#3a30aa"/></g>
<rect x="246.2" y="236.9" width="52.4" height="13.9" fill="none" stroke="#081c20" stroke-width="0.9"/>
<text x="241.1" y="246.9" font-size="6.4" text-anchor="end" fill="#333" font-weight="normal" textLength="19.6" lengthAdjust="spacingAndGlyphs">&#946;-actin</text>
<text x="309.7" y="246.9" font-size="6.4" text-anchor="middle" fill="#333" font-weight="normal">42</text>
<text x="329.4" y="147.3" font-size="11" text-anchor="start" fill="#111" font-weight="bold">F</text>
<defs>
<linearGradient id="arrV" x1="0" y1="1" x2="0" y2="0"><stop offset="0" stop-color="#d4d4e2"/><stop offset="1" stop-color="#c2c4dc"/></linearGradient>
<linearGradient id="arrH" x1="0" y1="0" x2="1" y2="0"><stop offset="0" stop-color="#d8d8e4"/><stop offset="1" stop-color="#c4c6dc"/></linearGradient>
</defs>
<defs><filter id="fb" x="-30%" y="-30%" width="160%" height="160%"><feGaussianBlur stdDeviation="0.35"/></filter></defs>
<line x1="383.3" y1="149" x2="398.5" y2="149" stroke="#a8cccc" stroke-width="0.6"/>
<line x1="398.5" y1="149" x2="398.5" y2="199.2" stroke="#a8cccc" stroke-width="0.6"/>
<line x1="383.3" y1="149" x2="383.3" y2="199.2" stroke="#9cc8c4" stroke-width="0.6"/>
<line x1="349.4" y1="149" x2="349.4" y2="199.2" stroke="#7f9c9e" stroke-width="0.9"/>
<line x1="349.4" y1="199.2" x2="398.5" y2="199.2" stroke="#5c6e74" stroke-width="1"/>
<text x="384.5" y="165" font-size="3" text-anchor="start" fill="#9aa6a6" font-weight="normal" textLength="7.5" lengthAdjust="spacingAndGlyphs">1.6%</text>
<text x="356.7" y="156" font-size="6.8" text-anchor="start" fill="#2a2a2a" font-weight="normal" textLength="7.5" lengthAdjust="spacingAndGlyphs">EV</text>
<line x1="440.5" y1="149" x2="455.6" y2="149" stroke="#a8cccc" stroke-width="0.6"/>
<line x1="455.6" y1="149" x2="455.6" y2="199.2" stroke="#a8cccc" stroke-width="0.6"/>
<line x1="440.5" y1="149" x2="440.5" y2="199.2" stroke="#9cc8c4" stroke-width="0.6"/>
<line x1="406.6" y1="149" x2="406.6" y2="199.2" stroke="#7f9c9e" stroke-width="0.9"/>
<line x1="406.6" y1="199.2" x2="455.6" y2="199.2" stroke="#5c6e74" stroke-width="1"/>
<text x="441.7" y="165" font-size="3" text-anchor="start" fill="#9aa6a6" font-weight="normal" textLength="7.5" lengthAdjust="spacingAndGlyphs">1.6%</text>
<text x="407.4" y="156" font-size="6.8" text-anchor="start" fill="#2a2a2a" font-weight="normal" textLength="32.7" lengthAdjust="spacingAndGlyphs">HEXIM1OE</text>
<line x1="383.3" y1="207.2" x2="398.5" y2="207.2" stroke="#a8cccc" stroke-width="0.6"/>
<line x1="398.5" y1="207.2" x2="398.5" y2="257.2" stroke="#a8cccc" stroke-width="0.6"/>
<line x1="383.3" y1="207.2" x2="383.3" y2="257.2" stroke="#9cc8c4" stroke-width="0.6"/>
<line x1="349.4" y1="207.2" x2="349.4" y2="257.2" stroke="#7f9c9e" stroke-width="0.9"/>
<line x1="349.4" y1="257.2" x2="398.5" y2="257.2" stroke="#5c6e74" stroke-width="1"/>
<text x="384.5" y="223.2" font-size="3" text-anchor="start" fill="#9aa6a6" font-weight="normal" textLength="7.5" lengthAdjust="spacingAndGlyphs">1.6%</text>
<text x="352.4" y="214" font-size="6.8" text-anchor="start" fill="#2a2a2a" font-weight="normal" textLength="27.7" lengthAdjust="spacingAndGlyphs">EV+NVP2</text>
<line x1="440.5" y1="207.2" x2="455.6" y2="207.2" stroke="#a8cccc" stroke-width="0.6"/>
<line x1="455.6" y1="207.2" x2="455.6" y2="257.2" stroke="#a8cccc" stroke-width="0.6"/>
<line x1="440.5" y1="207.2" x2="440.5" y2="257.2" stroke="#9cc8c4" stroke-width="0.6"/>
<line x1="406.6" y1="207.2" x2="406.6" y2="257.2" stroke="#7f9c9e" stroke-width="0.9"/>
<line x1="406.6" y1="257.2" x2="455.6" y2="257.2" stroke="#5c6e74" stroke-width="1"/>
<text x="441.7" y="223.2" font-size="3" text-anchor="start" fill="#9aa6a6" font-weight="normal" textLength="7.5" lengthAdjust="spacingAndGlyphs">1.6%</text>
<text x="409.1" y="214" font-size="6.8" text-anchor="start" fill="#2a2a2a" font-weight="normal" textLength="29.6" lengthAdjust="spacingAndGlyphs">OE+NVP2</text>
<g filter="url(#fb)">
<ellipse cx="368" cy="186" rx="3.2" ry="3" fill="#e4e0f8" stroke="#7c72d0" stroke-width="0.7"/>
<ellipse cx="366.5" cy="181.5" rx="1.6" ry="1.4" fill="#e4e0f8" stroke="#7c72d0" stroke-width="0.7"/>
<circle cx="371.8" cy="186.6" r="0.9" fill="none" stroke="#6a64b8" stroke-width="0.6"/>
<circle cx="375.2" cy="186" r="0.6" fill="none" stroke="#6a64b8" stroke-width="0.6"/>
<circle cx="376.3" cy="190.5" r="0.5" fill="none" stroke="#6a64b8" stroke-width="0.6"/>
<circle cx="381" cy="187" r="0.6" fill="none" stroke="#6a64b8" stroke-width="0.6"/>
<circle cx="372.5" cy="190.8" r="0.5" fill="none" stroke="#6a64b8" stroke-width="0.6"/>
<g transform="translate(362.8,187) rotate(-10)"><ellipse rx="6" ry="7.3" fill="#c8c2f0" stroke="#6c60c8" stroke-width="0.6"/><ellipse rx="4.8" ry="6.2" fill="#1c1f7a"/><ellipse cx="0" cy="0.24" rx="4.13" ry="5.33" fill="#2d5cc8"/><ellipse cx="0" cy="0.48" rx="3.46" ry="4.46" fill="#3cbf78"/><ellipse cx="0" cy="0.64" rx="2.5" ry="3.22" fill="#c8dc40"/><ellipse cx="0" cy="0.8" rx="1.68" ry="2.17" fill="#eca028"/><ellipse cx="0" cy="0.8" rx="0.82" ry="1.05" fill="#e86a1c"/></g>
</g>
<path d="M417.5 184.5 L421.8 179.3 L424.5 184.8 Z" fill="#5a70c8" stroke="#3a3a9a" stroke-width="0.5" filter="url(#fb)"/>
<g filter="url(#fb)">
<ellipse cx="425.8" cy="188.2" rx="3.6" ry="3.2" fill="#e4e0f8" stroke="#7c72d0" stroke-width="0.7"/>
<ellipse cx="414.5" cy="191" rx="2" ry="1.6" fill="#e4e0f8" stroke="#7c72d0" stroke-width="0.7"/>
<circle cx="431" cy="186" r="1.3" fill="none" stroke="#6a64b8" stroke-width="0.6"/>
<circle cx="434.5" cy="184" r="1.2" fill="none" stroke="#6a64b8" stroke-width="0.6"/>
<circle cx="437" cy="186.5" r="1.1" fill="none" stroke="#6a64b8" stroke-width="0.6"/>
<circle cx="432" cy="189.8" r="1.2" fill="none" stroke="#6a64b8" stroke-width="0.6"/>
<circle cx="435.5" cy="190.5" r="1.1" fill="none" stroke="#6a64b8" stroke-width="0.6"/>
<circle cx="439.5" cy="189" r="1" fill="none" stroke="#6a64b8" stroke-width="0.6"/>
<circle cx="433.5" cy="193" r="0.9" fill="none" stroke="#6a64b8" stroke-width="0.6"/>
<circle cx="437.5" cy="193.2" r="0.9" fill="none" stroke="#6a64b8" stroke-width="0.6"/>
<circle cx="442" cy="187.8" r="0.7" fill="none" stroke="#6a64b8" stroke-width="0.6"/>
<circle cx="440.5" cy="192" r="0.8" fill="none" stroke="#6a64b8" stroke-width="0.6"/>
<g transform="translate(420.6,188.4) rotate(-20)"><ellipse rx="6.2" ry="6.1" fill="#c8c2f0" stroke="#6c60c8" stroke-width="0.6"/><ellipse rx="5" ry="5" fill="#1c1f7a"/><ellipse cx="-0.24" cy="0.3" rx="4.3" ry="4.3" fill="#2d5cc8"/><ellipse cx="-0.48" cy="0.6" rx="3.6" ry="3.6" fill="#3cbf78"/><ellipse cx="-0.64" cy="0.8" rx="2.6" ry="2.6" fill="#c8dc40"/><ellipse cx="-0.8" cy="1" rx="1.75" ry="1.75" fill="#eca028"/><ellipse cx="-0.8" cy="1" rx="0.85" ry="0.85" fill="#e86a1c"/></g>
</g>
<g filter="url(#fb)">
<ellipse cx="368" cy="244" rx="3.4" ry="3.6" fill="#e4e0f8" stroke="#7c72d0" stroke-width="0.7"/>
<ellipse cx="364.5" cy="238.8" rx="1.6" ry="1.2" fill="#e4e0f8" stroke="#7c72d0" stroke-width="0.7"/>
<circle cx="374.5" cy="244.6" r="0.7" fill="none" stroke="#6a64b8" stroke-width="0.6"/>
<circle cx="377" cy="243" r="0.5" fill="none" stroke="#6a64b8" stroke-width="0.6"/>
<g transform="translate(361.6,244.4) rotate(0)"><ellipse rx="7.6" ry="7.3" fill="#c8c2f0" stroke="#6c60c8" stroke-width="0.6"/><ellipse rx="6.4" ry="6.2" fill="#1c1f7a"/><ellipse cx="0.06" cy="0.39" rx="5.5" ry="5.33" fill="#2d5cc8"/><ellipse cx="0.12" cy="0.78" rx="4.61" ry="4.46" fill="#3cbf78"/><ellipse cx="0.16" cy="1.04" rx="3.33" ry="3.22" fill="#c8dc40"/><ellipse cx="0.2" cy="1.3" rx="2.24" ry="2.17" fill="#eca028"/><ellipse cx="0.2" cy="1.3" rx="1.09" ry="1.05" fill="#e86a1c"/></g>
</g>
<g filter="url(#fb)">
<ellipse cx="428" cy="244.5" rx="4.2" ry="4.2" fill="#e4e0f8" stroke="#7c72d0" stroke-width="0.7"/>
<ellipse cx="419.5" cy="238.5" rx="3.4" ry="1.8" fill="#e4e0f8" stroke="#7c72d0" stroke-width="0.7"/>
<circle cx="434.5" cy="244.5" r="0.7" fill="none" stroke="#6a64b8" stroke-width="0.6"/>
<circle cx="437" cy="247.5" r="0.6" fill="none" stroke="#6a64b8" stroke-width="0.6"/>
<circle cx="439.5" cy="245" r="0.5" fill="none" stroke="#6a64b8" stroke-width="0.6"/>
<g transform="translate(419.4,244.6) rotate(0)"><ellipse rx="8.6" ry="7.7" fill="#c8c2f0" stroke="#6c60c8" stroke-width="0.6"/><ellipse rx="7.4" ry="6.6" fill="#1c1f7a"/><ellipse cx="-0.18" cy="0.27" rx="6.36" ry="5.68" fill="#2d5cc8"/><ellipse cx="-0.36" cy="0.54" rx="5.33" ry="4.75" fill="#3cbf78"/><ellipse cx="-0.48" cy="0.72" rx="3.85" ry="3.43" fill="#c8dc40"/><ellipse cx="-0.6" cy="0.9" rx="2.59" ry="2.31" fill="#eca028"/><ellipse cx="-0.6" cy="0.9" rx="1.26" ry="1.12" fill="#e86a1c"/></g>
</g>
<line x1="345.6" y1="147.5" x2="458.7" y2="147.5" stroke="#c47c88" stroke-width="1.3"/>
<line x1="345.6" y1="147.5" x2="345.6" y2="260.9" stroke="#c47c88" stroke-width="1.3"/>
<line x1="459" y1="146.9" x2="459" y2="261.5" stroke="#e09cae" stroke-width="2"/>
<line x1="345" y1="260.8" x2="460" y2="260.8" stroke="#cc7686" stroke-width="1.6"/>
<line x1="402.5" y1="147.5" x2="402.5" y2="260.9" stroke="#dc6c7e" stroke-width="1.8"/>
<line x1="345.6" y1="204.3" x2="458.7" y2="204.3" stroke="#dc6c7e" stroke-width="2.2"/>
<path d="M332.8 260.4 L332.8 234.8 L329.7 234.8 L336.45 228.7 L343.2 234.8 L340.1 234.8 L340.1 260.4 Z" fill="url(#arrV)" stroke="none" stroke-width="1"/>
<text transform="translate(339.5,250.3) rotate(-90)" font-size="7.4" text-anchor="middle" fill="#3a3a3a" font-weight="normal" stroke="#3a3a3a" stroke-width="0.21">FSC</text>
<path d="M345.9 266.4 L370.8 266.4 L370.8 263.7 L378.2 270.1 L370.8 276.5 L370.8 273.8 L345.9 273.8 Z" fill="url(#arrH)" stroke="none" stroke-width="1"/>
<text x="359.3" y="273.2" font-size="7.4" text-anchor="middle" fill="#3a3a3a" font-weight="normal" stroke="#3a3a3a" stroke-width="0.21">HbF</text>
<text x="7.3" y="299.6" font-size="11" text-anchor="start" fill="#111" font-weight="bold">G</text>
<rect x="35.4" y="374.3" width="12.6" height="27.3" fill="#37ab35" stroke="rgba(0,0,0,0.25)" stroke-width="0.4"/>
<rect x="52.2" y="391.4" width="12.6" height="10.2" fill="#e80a7e" stroke="rgba(0,0,0,0.25)" stroke-width="0.4"/>
<rect x="69" y="350.8" width="12.4" height="50.8" fill="#bd6a14" stroke="rgba(0,0,0,0.25)" stroke-width="0.4"/>
<rect x="85.7" y="383.8" width="12.3" height="17.8" fill="#9186c2" stroke="rgba(0,0,0,0.25)" stroke-width="0.4"/>
<line x1="41.7" y1="371.6" x2="41.7" y2="376.5" stroke="#111" stroke-width="0.9"/>
<line x1="38.9" y1="371.6" x2="44.5" y2="371.6" stroke="#111" stroke-width="1"/>
<line x1="38.9" y1="376.5" x2="44.5" y2="376.5" stroke="#111" stroke-width="1"/>
<circle cx="37.8" cy="371.3" r="1.45" fill="#111"/>
<circle cx="46.5" cy="373.3" r="1.45" fill="#111"/>
<circle cx="41.8" cy="377.5" r="1.45" fill="#111"/>
<line x1="58.5" y1="386.3" x2="58.5" y2="396.5" stroke="#111" stroke-width="0.9"/>
<line x1="55.7" y1="386.3" x2="61.3" y2="386.3" stroke="#111" stroke-width="1"/>
<line x1="55.7" y1="396.5" x2="61.3" y2="396.5" stroke="#111" stroke-width="1"/>
<circle cx="53.3" cy="387.4" r="1.45" fill="#111"/>
<circle cx="63.6" cy="389.9" r="1.45" fill="#111"/>
<circle cx="58.6" cy="396.3" r="1.45" fill="#111"/>
<line x1="75.2" y1="337.3" x2="75.2" y2="362.5" stroke="#111" stroke-width="0.9"/>
<line x1="72.4" y1="337.3" x2="78" y2="337.3" stroke="#111" stroke-width="1"/>
<line x1="72.4" y1="362.5" x2="78" y2="362.5" stroke="#111" stroke-width="1"/>
<circle cx="74.5" cy="336.6" r="1.45" fill="#111"/>
<circle cx="74.9" cy="354.5" r="1.45" fill="#111"/>
<circle cx="74.9" cy="359" r="1.45" fill="#111"/>
<line x1="91.8" y1="378.8" x2="91.8" y2="388.5" stroke="#111" stroke-width="0.9"/>
<line x1="89" y1="378.8" x2="94.6" y2="378.8" stroke="#111" stroke-width="1"/>
<line x1="89" y1="388.5" x2="94.6" y2="388.5" stroke="#111" stroke-width="1"/>
<circle cx="91.8" cy="378.8" r="1.45" fill="#111"/>
<circle cx="91.8" cy="383.8" r="1.45" fill="#111"/>
<circle cx="91.8" cy="389.3" r="1.45" fill="#111"/>
<line x1="32" y1="314.3" x2="32" y2="402.2" stroke="#222" stroke-width="1.25"/>
<line x1="31.4" y1="401.6" x2="100.5" y2="401.6" stroke="#222" stroke-width="1.3"/>
<line x1="29.4" y1="401.6" x2="32" y2="401.6" stroke="#222" stroke-width="0.8"/>
<text x="26.4" y="403.85" font-size="6.3" text-anchor="end" fill="#3a3a3a" font-weight="normal">0</text>
<line x1="29.4" y1="384.7" x2="32" y2="384.7" stroke="#222" stroke-width="0.8"/>
<text x="26.4" y="386.95" font-size="6.3" text-anchor="end" fill="#3a3a3a" font-weight="normal">2</text>
<line x1="29.4" y1="367.8" x2="32" y2="367.8" stroke="#222" stroke-width="0.8"/>
<text x="26.4" y="370.05" font-size="6.3" text-anchor="end" fill="#3a3a3a" font-weight="normal">4</text>
<line x1="29.4" y1="350.9" x2="32" y2="350.9" stroke="#222" stroke-width="0.8"/>
<text x="26.4" y="353.15" font-size="6.3" text-anchor="end" fill="#3a3a3a" font-weight="normal">6</text>
<line x1="29.4" y1="334" x2="32" y2="334" stroke="#222" stroke-width="0.8"/>
<text x="26.4" y="336.25" font-size="6.3" text-anchor="end" fill="#3a3a3a" font-weight="normal">8</text>
<line x1="29.4" y1="317.1" x2="32" y2="317.1" stroke="#222" stroke-width="0.8"/>
<text x="26.4" y="319.35" font-size="6.3" text-anchor="end" fill="#3a3a3a" font-weight="normal">10</text>
<line x1="41.7" y1="401.6" x2="41.7" y2="404" stroke="#222" stroke-width="0.8"/>
<line x1="58.5" y1="401.6" x2="58.5" y2="404" stroke="#222" stroke-width="0.8"/>
<line x1="75.2" y1="401.6" x2="75.2" y2="404" stroke="#222" stroke-width="0.8"/>
<line x1="91.85" y1="401.6" x2="91.85" y2="404" stroke="#222" stroke-width="0.8"/>
<path d="M41.8 365.4 L41.8 326.3 L58.6 326.3 L58.6 382.1" fill="none" stroke="#333" stroke-width="0.9"/>
<text x="50.2" y="326.6" font-size="6.6" text-anchor="middle" fill="#333" font-weight="normal">**</text>
<path d="M74.8 330.1 L74.8 326.3 L91.8 326.3 L91.8 377.1" fill="none" stroke="#333" stroke-width="0.9"/>
<text x="83.2" y="326.6" font-size="6.6" text-anchor="middle" fill="#333" font-weight="normal">*</text>
<text transform="translate(44.1,410.8) rotate(-45)" font-size="6.1" text-anchor="end" fill="#333" font-weight="normal" stroke="#333" stroke-width="0.2">EV</text>
<text transform="translate(60.6,410.8) rotate(-45)" font-size="6.1" text-anchor="end" fill="#333" font-weight="normal" stroke="#333" stroke-width="0.2">EV+NVP2</text>
<text transform="translate(77.5,410.8) rotate(-45)" font-size="6.1" text-anchor="end" fill="#333" font-weight="normal" stroke="#333" stroke-width="0.2">OE</text>
<text transform="translate(93.8,410.8) rotate(-45)" font-size="6.1" text-anchor="end" fill="#333" font-weight="normal" stroke="#333" stroke-width="0.2">OE+NVP2</text>
<text transform="translate(13.6,357.9) rotate(-90)" font-size="8" text-anchor="middle" fill="#3a3a3a" font-weight="normal" textLength="44.6" lengthAdjust="spacingAndGlyphs" stroke="#3a3a3a" stroke-width="0.1">HbF+ cells (%)</text>
<text x="116.7" y="300" font-size="11" text-anchor="start" fill="#111" font-weight="bold">H</text>
<path d="M151.8 405.3 L151.8 405.3 L152.6 392 L153.4 376 L154.4 340 L155.7 318 L157.1 301.4 L158.3 314 L159.4 322.8 L161.4 328.2 L163 332.9 L164.4 339 L165.4 347 L166.1 352.4 L168.1 358 L170.1 364.5 L172.8 370 L176.2 376.5 L178.5 381.5 L181.5 379.5 L187.7 391 L193.1 385.5 L200.8 396.5 L205.4 393.5 L210.8 401 L214.5 405.3 L214.5 405.3 Z" fill="#ee86b8" stroke="none" stroke-width="1"/>
<path d="M153 405.3 L153 405.3 L154 380 L155.2 345 L156.2 330 L157.1 320.8 L158.7 326.9 L160.1 336.3 L161.4 347 L163 355.7 L164.8 353.7 L166.8 353.9 L168.1 356.4 L170.1 363.1 L172.8 368.5 L176.2 373.9 L179.2 379.5 L181.5 377.2 L187.7 386.2 L193.1 379.2 L200.8 390.8 L205.4 387.5 L210.8 396.2 L215 400.5 L218.5 405.3 L218.5 405.3 Z" fill="#9fd88a" stroke="none" stroke-width="1"/>
<path d="M151.8 405.3 L151.8 405.3 L151.97 405.3 L152.13 405.3 L152.3 405.3 L152.47 405.3 L152.6 405.3 L152.63 405.3 L152.8 405.3 L152.97 405.3 L153 405.3 L153.13 401.91 L153.3 397.69 L153.4 395.18 L153.47 393.47 L153.63 389.25 L153.8 385.03 L153.97 380.82 L154 380 L154.13 376.08 L154.3 371.21 L154.4 368.33 L154.47 366.35 L154.63 361.49 L154.8 356.62 L154.97 351.76 L155.14 346.9 L155.2 345 L155.3 343.47 L155.47 340.97 L155.64 338.47 L155.7 337.5 L155.8 335.97 L155.97 333.47 L156.14 330.97 L156.2 330 L156.3 328.95 L156.47 327.25 L156.64 325.55 L156.8 323.84 L156.97 322.14 L157.1 320.8 L157.14 320.94 L157.3 321.57 L157.47 322.21 L157.64 322.84 L157.8 323.48 L157.97 324.12 L158.14 324.75 L158.3 325.38 L158.3 325.39 L158.47 326.02 L158.64 326.66 L158.7 326.9 L158.8 327.59 L158.97 328.71 L159.14 329.83 L159.3 330.95 L159.4 331.6 L159.47 332.07 L159.64 333.19 L159.8 334.31 L159.97 335.43 L160.1 336.3 L160.14 336.61 L160.3 337.98 L160.47 339.35 L160.64 340.73 L160.8 342.1 L160.97 343.47 L161.14 344.84 L161.3 346.22 L161.4 347 L161.47 347.39 L161.64 348.3 L161.81 349.2 L161.97 350.11 L162.14 351.02 L162.31 351.92 L162.47 352.83 L162.64 353.74 L162.81 354.64 L162.97 355.55 L163 355.7 L163.14 355.55 L163.31 355.36 L163.47 355.18 L163.64 354.99 L163.81 354.8 L163.97 354.62 L164.14 354.43 L164.31 354.25 L164.4 354.14 L164.47 354.06 L164.64 353.88 L164.8 353.7 L164.81 353.7 L164.97 353.72 L165.14 353.73 L165.31 353.75 L165.4 353.76 L165.47 353.77 L165.64 353.78 L165.81 353.8 L165.97 353.82 L166.1 353.83 L166.14 353.83 L166.31 353.85 L166.47 353.87 L166.64 353.91 L166.8 354.36 L166.81 354.38 L166.97 354.85 L167.14 355.31 L167.31 355.78 L167.47 356.25 L167.64 356.72 L167.81 357.18 L167.97 357.65 L168.1 358 L168.14 358.13 L168.31 358.68 L168.48 359.22 L168.64 359.76 L168.81 360.3 L168.98 360.84 L169.14 361.39 L169.31 361.93 L169.48 362.47 L169.64 363.01 L169.81 363.55 L169.98 364.1 L170.1 364.5 L170.14 364.59 L170.31 364.93 L170.48 365.27 L170.64 365.61 L170.81 365.95 L170.98 366.28 L171.14 366.62 L171.31 366.96 L171.48 367.3 L171.64 367.64 L171.81 367.98 L171.98 368.32 L172.14 368.66 L172.31 369 L172.48 369.34 L172.64 369.68 L172.8 370 L172.81 370.02 L172.98 370.34 L173.14 370.66 L173.31 370.98 L173.48 371.3 L173.64 371.61 L173.81 371.93 L173.98 372.25 L174.14 372.57 L174.31 372.89 L174.48 373.21 L174.64 373.53 L174.81 373.85 L174.98 374.16 L175.15 374.48 L175.31 374.8 L175.48 375.12 L175.65 375.44 L175.81 375.76 L175.98 376.08 L176.15 376.4 L176.2 376.5 L176.31 376.74 L176.48 377.11 L176.65 377.47 L176.81 377.83 L176.98 378.19 L177.15 378.56 L177.31 378.92 L177.48 379.28 L177.65 379.64 L177.81 380.01 L177.98 380.37 L178.15 380.73 L178.31 381.09 L178.48 381.46 L178.5 381.5 L178.65 381.4 L178.81 381.29 L178.98 381.18 L179.15 381.07 L179.2 381.03 L179.31 380.96 L179.48 380.85 L179.65 380.74 L179.81 380.62 L179.98 380.51 L180.15 380.4 L180.31 380.29 L180.48 380.18 L180.65 380.07 L180.81 379.96 L180.98 379.85 L181.15 379.73 L181.31 379.62 L181.48 379.51 L181.5 379.5 L181.65 379.77 L181.81 380.08 L181.98 380.39 L182.15 380.7 L182.32 381.01 L182.48 381.32 L182.65 381.63 L182.82 381.94 L182.98 382.25 L183.15 382.56 L183.32 382.87 L183.48 383.18 L183.65 383.49 L183.82 383.8 L183.98 384.11 L184.15 384.41 L184.32 384.72 L184.48 385.03 L184.65 385.34 L184.82 385.65 L184.98 385.96 L185.15 386.27 L185.32 386.58 L185.48 386.89 L185.65 387.2 L185.82 387.51 L185.98 387.82 L186.15 388.13 L186.32 388.44 L186.48 388.74 L186.65 389.05 L186.82 389.36 L186.98 389.67 L187.15 389.98 L187.32 390.29 L187.48 390.6 L187.65 390.91 L187.7 391 L187.82 390.88 L187.98 390.71 L188.15 390.54 L188.32 390.37 L188.49 390.2 L188.65 390.03 L188.82 389.86 L188.99 389.69 L189.15 389.52 L189.32 389.35 L189.49 389.18 L189.65 389.01 L189.82 388.84 L189.99 388.67 L190.15 388.5 L190.32 388.33 L190.49 388.16 L190.65 387.99 L190.82 387.82 L190.99 387.65 L191.15 387.48 L191.32 387.31 L191.49 387.14 L191.65 386.97 L191.82 386.8 L191.99 386.63 L192.15 386.46 L192.32 386.29 L192.49 386.12 L192.65 385.95 L192.82 385.78 L192.99 385.61 L193.1 385.5 L193.15 385.58 L193.32 385.82 L193.49 386.05 L193.65 386.29 L193.82 386.53 L193.99 386.77 L194.15 387.01 L194.32 387.24 L194.49 387.48 L194.65 387.72 L194.82 387.96 L194.99 388.2 L195.16 388.44 L195.32 388.67 L195.49 388.91 L195.66 389.15 L195.82 389.39 L195.99 389.63 L196.16 389.87 L196.32 390.1 L196.49 390.34 L196.66 390.58 L196.82 390.82 L196.99 391.06 L197.16 391.29 L197.32 391.53 L197.49 391.77 L197.66 392.01 L197.82 392.25 L197.99 392.49 L198.16 392.72 L198.32 392.96 L198.49 393.2 L198.66 393.44 L198.82 393.68 L198.99 393.91 L199.16 394.15 L199.32 394.39 L199.49 394.63 L199.66 394.87 L199.82 395.11 L199.99 395.34 L200.16 395.58 L200.32 395.82 L200.49 396.06 L200.66 396.3 L200.8 396.5 L200.82 396.48 L200.99 396.38 L201.16 396.27 L201.32 396.16 L201.49 396.05 L201.66 395.94 L201.82 395.83 L201.99 395.72 L202.16 395.61 L202.33 395.51 L202.49 395.4 L202.66 395.29 L202.83 395.18 L202.99 395.07 L203.16 394.96 L203.33 394.85 L203.49 394.74 L203.66 394.64 L203.83 394.53 L203.99 394.42 L204.16 394.31 L204.33 394.2 L204.49 394.09 L204.66 393.98 L204.83 393.87 L204.99 393.77 L205.16 393.66 L205.33 393.55 L205.4 393.5 L205.49 393.63 L205.66 393.86 L205.83 394.09 L205.99 394.32 L206.16 394.56 L206.33 394.79 L206.49 395.02 L206.66 395.25 L206.83 395.48 L206.99 395.71 L207.16 395.95 L207.33 396.18 L207.49 396.41 L207.66 396.64 L207.83 396.87 L207.99 397.1 L208.16 397.34 L208.33 397.57 L208.5 397.8 L208.66 398.03 L208.83 398.26 L209 398.49 L209.16 398.73 L209.33 398.96 L209.5 399.19 L209.66 399.42 L209.83 399.65 L210 399.88 L210.16 400.11 L210.33 400.35 L210.5 400.58 L210.66 400.81 L210.8 401 L210.83 401.03 L211 401.23 L211.16 401.42 L211.33 401.62 L211.5 401.81 L211.66 402 L211.83 402.2 L212 402.39 L212.16 402.58 L212.33 402.78 L212.5 402.97 L212.66 403.17 L212.83 403.36 L213 403.55 L213.16 403.75 L213.33 403.94 L213.5 404.13 L213.66 404.33 L213.83 404.52 L214 404.72 L214.16 404.91 L214.33 405.1 L214.5 405.3 L214.5 405.3 L214.66 405.3 L214.83 405.3 L215 405.3 L215 405.3 L215.16 405.3 L215.33 405.3 L215.5 405.3 L215.67 405.3 L215.83 405.3 L216 405.3 L216.17 405.3 L216.33 405.3 L216.5 405.3 L216.67 405.3 L216.83 405.3 L217 405.3 L217.17 405.3 L217.33 405.3 L217.5 405.3 L217.67 405.3 L217.83 405.3 L218 405.3 L218.17 405.3 L218.33 405.3 L218.5 405.3 L218.5 405.3 Z" fill="#a8a27c" stroke="none" stroke-width="1"/>
<path d="M151.8 405.3 L152.6 392 L153.4 376 L154.4 340 L155.7 318 L157.1 301.4 L158.3 314 L159.4 322.8 L161.4 328.2 L163 332.9 L164.4 339 L165.4 347 L166.1 352.4 L168.1 358 L170.1 364.5 L172.8 370 L176.2 376.5 L178.5 381.5 L181.5 379.5 L187.7 391 L193.1 385.5 L200.8 396.5 L205.4 393.5 L210.8 401 L214.5 405.3" fill="none" stroke="#d0307a" stroke-width="0.9" stroke-linejoin="round"/>
<path d="M153 405.3 L154 380 L155.2 345 L156.2 330 L157.1 320.8 L158.7 326.9 L160.1 336.3 L161.4 347 L163 355.7 L164.8 353.7 L166.8 353.9 L168.1 356.4 L170.1 363.1 L172.8 368.5 L176.2 373.9 L179.2 379.5 L181.5 377.2 L187.7 386.2 L193.1 379.2 L200.8 390.8 L205.4 387.5 L210.8 396.2 L215 400.5 L218.5 405.3" fill="none" stroke="#4aa840" stroke-width="0.9" stroke-linejoin="round"/>
<line x1="135.5" y1="298.3" x2="135.5" y2="406" stroke="#222" stroke-width="0.9"/>
<line x1="135" y1="405.5" x2="237" y2="405.5" stroke="#222" stroke-width="0.9"/>
<line x1="133.3" y1="301.5" x2="135.5" y2="301.5" stroke="#222" stroke-width="0.7"/>
<line x1="133.3" y1="327.3" x2="135.5" y2="327.3" stroke="#222" stroke-width="0.7"/>
<line x1="133.3" y1="353.1" x2="135.5" y2="353.1" stroke="#222" stroke-width="0.7"/>
<line x1="133.3" y1="378.9" x2="135.5" y2="378.9" stroke="#222" stroke-width="0.7"/>
<line x1="134.1" y1="301.5" x2="135.5" y2="301.5" stroke="#222" stroke-width="0.6"/>
<line x1="134.1" y1="307.95" x2="135.5" y2="307.95" stroke="#222" stroke-width="0.6"/>
<line x1="134.1" y1="314.4" x2="135.5" y2="314.4" stroke="#222" stroke-width="0.6"/>
<line x1="134.1" y1="320.85" x2="135.5" y2="320.85" stroke="#222" stroke-width="0.6"/>
<line x1="134.1" y1="327.3" x2="135.5" y2="327.3" stroke="#222" stroke-width="0.6"/>
<line x1="134.1" y1="333.75" x2="135.5" y2="333.75" stroke="#222" stroke-width="0.6"/>
<line x1="134.1" y1="340.2" x2="135.5" y2="340.2" stroke="#222" stroke-width="0.6"/>
<line x1="134.1" y1="346.65" x2="135.5" y2="346.65" stroke="#222" stroke-width="0.6"/>
<line x1="134.1" y1="353.1" x2="135.5" y2="353.1" stroke="#222" stroke-width="0.6"/>
<line x1="134.1" y1="359.55" x2="135.5" y2="359.55" stroke="#222" stroke-width="0.6"/>
<line x1="134.1" y1="366" x2="135.5" y2="366" stroke="#222" stroke-width="0.6"/>
<line x1="134.1" y1="372.45" x2="135.5" y2="372.45" stroke="#222" stroke-width="0.6"/>
<line x1="134.1" y1="378.9" x2="135.5" y2="378.9" stroke="#222" stroke-width="0.6"/>
<line x1="134.1" y1="385.35" x2="135.5" y2="385.35" stroke="#222" stroke-width="0.6"/>
<line x1="134.1" y1="391.8" x2="135.5" y2="391.8" stroke="#222" stroke-width="0.6"/>
<line x1="134.1" y1="398.25" x2="135.5" y2="398.25" stroke="#222" stroke-width="0.6"/>
<line x1="134.1" y1="404.7" x2="135.5" y2="404.7" stroke="#222" stroke-width="0.6"/>
<line x1="136.2" y1="405.5" x2="136.2" y2="408.1" stroke="#222" stroke-width="0.7"/>
<line x1="161.2" y1="405.5" x2="161.2" y2="408.1" stroke="#222" stroke-width="0.7"/>
<line x1="185.8" y1="405.5" x2="185.8" y2="408.1" stroke="#222" stroke-width="0.7"/>
<line x1="210.8" y1="405.5" x2="210.8" y2="408.1" stroke="#222" stroke-width="0.7"/>
<line x1="235.4" y1="405.5" x2="235.4" y2="408.1" stroke="#222" stroke-width="0.7"/>
<line x1="143.73" y1="405.5" x2="143.73" y2="406.9" stroke="#222" stroke-width="0.6"/>
<line x1="148.13" y1="405.5" x2="148.13" y2="406.9" stroke="#222" stroke-width="0.6"/>
<line x1="151.25" y1="405.5" x2="151.25" y2="406.9" stroke="#222" stroke-width="0.6"/>
<line x1="153.67" y1="405.5" x2="153.67" y2="406.9" stroke="#222" stroke-width="0.6"/>
<line x1="155.65" y1="405.5" x2="155.65" y2="406.9" stroke="#222" stroke-width="0.6"/>
<line x1="157.33" y1="405.5" x2="157.33" y2="406.9" stroke="#222" stroke-width="0.6"/>
<line x1="158.78" y1="405.5" x2="158.78" y2="406.9" stroke="#222" stroke-width="0.6"/>
<line x1="160.06" y1="405.5" x2="160.06" y2="406.9" stroke="#222" stroke-width="0.6"/>
<line x1="168.61" y1="405.5" x2="168.61" y2="406.9" stroke="#222" stroke-width="0.6"/>
<line x1="172.94" y1="405.5" x2="172.94" y2="406.9" stroke="#222" stroke-width="0.6"/>
<line x1="176.01" y1="405.5" x2="176.01" y2="406.9" stroke="#222" stroke-width="0.6"/>
<line x1="178.39" y1="405.5" x2="178.39" y2="406.9" stroke="#222" stroke-width="0.6"/>
<line x1="180.34" y1="405.5" x2="180.34" y2="406.9" stroke="#222" stroke-width="0.6"/>
<line x1="181.99" y1="405.5" x2="181.99" y2="406.9" stroke="#222" stroke-width="0.6"/>
<line x1="183.42" y1="405.5" x2="183.42" y2="406.9" stroke="#222" stroke-width="0.6"/>
<line x1="184.67" y1="405.5" x2="184.67" y2="406.9" stroke="#222" stroke-width="0.6"/>
<line x1="193.33" y1="405.5" x2="193.33" y2="406.9" stroke="#222" stroke-width="0.6"/>
<line x1="197.73" y1="405.5" x2="197.73" y2="406.9" stroke="#222" stroke-width="0.6"/>
<line x1="200.85" y1="405.5" x2="200.85" y2="406.9" stroke="#222" stroke-width="0.6"/>
<line x1="203.27" y1="405.5" x2="203.27" y2="406.9" stroke="#222" stroke-width="0.6"/>
<line x1="205.25" y1="405.5" x2="205.25" y2="406.9" stroke="#222" stroke-width="0.6"/>
<line x1="206.93" y1="405.5" x2="206.93" y2="406.9" stroke="#222" stroke-width="0.6"/>
<line x1="208.38" y1="405.5" x2="208.38" y2="406.9" stroke="#222" stroke-width="0.6"/>
<line x1="209.66" y1="405.5" x2="209.66" y2="406.9" stroke="#222" stroke-width="0.6"/>
<line x1="218.21" y1="405.5" x2="218.21" y2="406.9" stroke="#222" stroke-width="0.6"/>
<line x1="222.54" y1="405.5" x2="222.54" y2="406.9" stroke="#222" stroke-width="0.6"/>
<line x1="225.61" y1="405.5" x2="225.61" y2="406.9" stroke="#222" stroke-width="0.6"/>
<line x1="227.99" y1="405.5" x2="227.99" y2="406.9" stroke="#222" stroke-width="0.6"/>
<line x1="229.94" y1="405.5" x2="229.94" y2="406.9" stroke="#222" stroke-width="0.6"/>
<line x1="231.59" y1="405.5" x2="231.59" y2="406.9" stroke="#222" stroke-width="0.6"/>
<line x1="233.02" y1="405.5" x2="233.02" y2="406.9" stroke="#222" stroke-width="0.6"/>
<line x1="234.27" y1="405.5" x2="234.27" y2="406.9" stroke="#222" stroke-width="0.6"/>
<rect x="186.3" y="315.6" width="9.6" height="2.9" fill="#2e9a3a" stroke="none" stroke-width="0"/>
<text x="198.8" y="319.4" font-size="6.5" text-anchor="start" fill="#333" font-weight="normal">EV</text>
<rect x="186.3" y="326.1" width="9.6" height="2.9" fill="#d0106e" stroke="none" stroke-width="0"/>
<text x="198.8" y="330" font-size="6.5" text-anchor="start" fill="#333" font-weight="normal" textLength="27.8" lengthAdjust="spacingAndGlyphs">EV+NVP2</text>
<text x="186.7" y="419" font-size="8.4" text-anchor="middle" fill="#444" font-weight="normal" textLength="11.2" lengthAdjust="spacingAndGlyphs" stroke="#444" stroke-width="0.24">HbF</text>
<path d="M271.7 405.3 L271.7 405.3 L272.6 360 L273.6 334.3 L275.5 311.3 L278 301.7 L280.3 320.9 L282.2 330.4 L284.1 338.1 L286 345.7 L288 353.4 L290.8 358.2 L294 364 L297 369.5 L299.4 372.5 L302 371 L305.2 371.6 L308 374 L310.9 376.4 L316.7 380.2 L322.4 387.8 L326.5 394.5 L330 400 L333 404 L335 405.3 L335 405.3 Z" fill="#b6b6e2" stroke="none" stroke-width="1"/>
<path d="M272.7 405.3 L272.7 405.3 L273.8 370 L275 340 L275.9 332.3 L279.3 337.1 L282.2 343.8 L285.1 351.5 L287 357.2 L289.9 358.2 L293.7 359.1 L296.6 363 L299.4 364.9 L302.3 365.8 L304.2 364.9 L306.1 366.8 L309 363 L311.9 360.1 L313.8 362 L315.7 361 L318.6 366.8 L322.4 378.3 L326.2 387.8 L330 399.3 L332.9 404.1 L335.8 405.3 L335.8 405.3 Z" fill="#e79a94" stroke="none" stroke-width="1"/>
<path d="M271.7 405.3 L271.7 405.3 L271.86 405.3 L272.02 405.3 L272.18 405.3 L272.34 405.3 L272.5 405.3 L272.6 405.3 L272.66 405.3 L272.7 405.3 L272.82 401.39 L272.98 396.25 L273.14 391.11 L273.3 385.97 L273.46 380.82 L273.6 376.42 L273.62 375.68 L273.78 370.54 L273.8 370 L273.94 366.41 L274.1 362.41 L274.26 358.4 L274.42 354.39 L274.58 350.39 L274.74 346.38 L274.9 342.38 L275 340 L275.07 339.44 L275.23 338.07 L275.39 336.7 L275.5 335.72 L275.55 335.33 L275.71 333.96 L275.87 332.59 L275.9 332.3 L276.03 332.48 L276.19 332.71 L276.35 332.93 L276.51 333.16 L276.67 333.38 L276.83 333.61 L276.99 333.84 L277.15 334.06 L277.31 334.29 L277.47 334.52 L277.63 334.74 L277.79 334.97 L277.95 335.19 L278 335.26 L278.11 335.42 L278.27 335.65 L278.43 335.87 L278.59 336.1 L278.75 336.32 L278.91 336.55 L279.07 336.78 L279.23 337 L279.3 337.1 L279.39 337.31 L279.55 337.68 L279.71 338.05 L279.87 338.42 L280.03 338.79 L280.19 339.16 L280.3 339.41 L280.35 339.53 L280.51 339.9 L280.67 340.27 L280.83 340.64 L280.99 341.01 L281.15 341.39 L281.31 341.76 L281.48 342.13 L281.64 342.5 L281.8 342.87 L281.96 343.24 L282.12 343.61 L282.2 343.8 L282.28 344 L282.44 344.43 L282.6 344.85 L282.76 345.28 L282.92 345.71 L283.08 346.13 L283.24 346.56 L283.4 346.98 L283.56 347.41 L283.72 347.83 L283.88 348.26 L284.04 348.68 L284.1 348.84 L284.2 349.11 L284.36 349.53 L284.52 349.96 L284.68 350.39 L284.84 350.81 L285 351.24 L285.1 351.5 L285.16 351.68 L285.32 352.16 L285.48 352.64 L285.64 353.13 L285.8 353.61 L285.96 354.09 L286 354.2 L286.12 354.57 L286.28 355.05 L286.44 355.53 L286.6 356.01 L286.76 356.49 L286.92 356.97 L287 357.2 L287.08 357.23 L287.24 357.28 L287.4 357.34 L287.56 357.39 L287.73 357.45 L287.89 357.51 L288 357.54 L288.05 357.56 L288.21 357.62 L288.37 357.67 L288.53 357.73 L288.69 357.78 L288.85 357.84 L289.01 357.89 L289.17 357.95 L289.33 358 L289.49 358.06 L289.65 358.11 L289.81 358.17 L289.9 358.2 L289.97 358.22 L290.13 358.25 L290.29 358.29 L290.45 358.33 L290.61 358.37 L290.77 358.41 L290.8 358.41 L290.93 358.44 L291.09 358.73 L291.25 359.02 L291.41 359.31 L291.57 359.6 L291.73 359.89 L291.89 360.18 L292.05 360.47 L292.21 360.76 L292.37 361.05 L292.53 361.34 L292.69 361.63 L292.85 361.92 L293.01 362.21 L293.17 362.5 L293.33 362.79 L293.49 363.08 L293.65 363.37 L293.7 363.46 L293.81 363.66 L293.97 363.95 L294 364 L294.13 364.25 L294.3 364.54 L294.46 364.84 L294.62 365.13 L294.78 365.42 L294.94 365.72 L295.1 366.01 L295.26 366.3 L295.42 366.6 L295.58 366.89 L295.74 367.19 L295.9 367.48 L296.06 367.77 L296.22 368.07 L296.38 368.36 L296.54 368.65 L296.6 368.77 L296.7 368.95 L296.86 369.24 L297 369.5 L297.02 369.52 L297.18 369.72 L297.34 369.92 L297.5 370.13 L297.66 370.33 L297.82 370.53 L297.98 370.73 L298.14 370.93 L298.3 371.13 L298.46 371.33 L298.62 371.53 L298.78 371.73 L298.94 371.93 L299.1 372.13 L299.26 372.33 L299.4 372.5 L299.42 372.49 L299.58 372.39 L299.74 372.3 L299.9 372.21 L300.06 372.12 L300.22 372.02 L300.38 371.93 L300.55 371.84 L300.71 371.75 L300.87 371.65 L301.03 371.56 L301.19 371.47 L301.35 371.38 L301.51 371.28 L301.67 371.19 L301.83 371.1 L301.99 371.01 L302 371 L302.15 371.03 L302.3 371.06 L302.31 371.06 L302.47 371.09 L302.63 371.12 L302.79 371.15 L302.95 371.18 L303.11 371.21 L303.27 371.24 L303.43 371.27 L303.59 371.3 L303.75 371.33 L303.91 371.36 L304.07 371.39 L304.2 371.41 L304.23 371.42 L304.39 371.45 L304.55 371.48 L304.71 371.51 L304.87 371.54 L305.03 371.57 L305.19 371.6 L305.2 371.6 L305.35 371.73 L305.51 371.87 L305.67 372.01 L305.83 372.14 L305.99 372.28 L306.1 372.37 L306.15 372.42 L306.31 372.55 L306.47 372.69 L306.63 372.83 L306.79 372.97 L306.95 373.1 L307.12 373.24 L307.28 373.38 L307.44 373.52 L307.6 373.65 L307.76 373.79 L307.92 373.93 L308 374 L308.08 374.06 L308.24 374.2 L308.4 374.33 L308.56 374.46 L308.72 374.59 L308.88 374.73 L309 374.83 L309.04 374.86 L309.2 374.99 L309.36 375.12 L309.52 375.26 L309.68 375.39 L309.84 375.52 L310 375.65 L310.16 375.79 L310.32 375.92 L310.48 376.05 L310.64 376.19 L310.8 376.32 L310.9 376.4 L310.96 376.44 L311.12 376.55 L311.28 376.65 L311.44 376.76 L311.6 376.86 L311.76 376.97 L311.9 377.06 L311.92 377.07 L312.08 377.18 L312.24 377.28 L312.4 377.39 L312.56 377.49 L312.72 377.6 L312.88 377.7 L313.04 377.81 L313.2 377.91 L313.37 378.01 L313.53 378.12 L313.69 378.22 L313.8 378.3 L313.85 378.33 L314.01 378.43 L314.17 378.54 L314.33 378.64 L314.49 378.75 L314.65 378.85 L314.81 378.96 L314.97 379.06 L315.13 379.17 L315.29 379.27 L315.45 379.38 L315.61 379.48 L315.7 379.54 L315.77 379.59 L315.93 379.69 L316.09 379.8 L316.25 379.9 L316.41 380.01 L316.57 380.11 L316.7 380.2 L316.73 380.24 L316.89 380.45 L317.05 380.67 L317.21 380.88 L317.37 381.1 L317.53 381.31 L317.69 381.52 L317.85 381.74 L318.01 381.95 L318.17 382.16 L318.33 382.38 L318.49 382.59 L318.6 382.73 L318.65 382.8 L318.81 383.02 L318.97 383.23 L319.13 383.45 L319.29 383.66 L319.45 383.87 L319.61 384.09 L319.77 384.3 L319.94 384.51 L320.1 384.73 L320.26 384.94 L320.42 385.15 L320.58 385.37 L320.74 385.58 L320.9 385.8 L321.06 386.01 L321.22 386.22 L321.38 386.44 L321.54 386.65 L321.7 386.86 L321.86 387.08 L322.02 387.29 L322.18 387.51 L322.34 387.72 L322.4 387.8 L322.5 387.96 L322.66 388.22 L322.82 388.49 L322.98 388.75 L323.14 389.01 L323.3 389.27 L323.46 389.53 L323.62 389.8 L323.78 390.06 L323.94 390.32 L324.1 390.58 L324.26 390.84 L324.42 391.1 L324.58 391.37 L324.74 391.63 L324.9 391.89 L325.06 392.15 L325.22 392.41 L325.38 392.68 L325.54 392.94 L325.7 393.2 L325.86 393.46 L326.02 393.72 L326.19 393.99 L326.2 394.01 L326.35 394.25 L326.5 394.5 L326.51 394.51 L326.67 394.76 L326.83 395.01 L326.99 395.26 L327.15 395.52 L327.31 395.77 L327.47 396.02 L327.63 396.27 L327.79 396.52 L327.95 396.78 L328.11 397.03 L328.27 397.28 L328.43 397.53 L328.59 397.78 L328.75 398.03 L328.91 398.29 L329.07 398.54 L329.23 398.79 L329.39 399.04 L329.55 399.29 L329.71 399.55 L329.87 399.8 L330 400 L330.03 400.04 L330.19 400.26 L330.35 400.47 L330.51 400.68 L330.67 400.9 L330.83 401.11 L330.99 401.32 L331.15 401.54 L331.31 401.75 L331.47 401.96 L331.63 402.18 L331.79 402.39 L331.95 402.61 L332.11 402.82 L332.27 403.06 L332.43 403.33 L332.6 403.6 L332.76 403.86 L332.9 404.1 L332.92 404.11 L333 404.14 L333.08 404.17 L333.24 404.24 L333.4 404.31 L333.56 404.37 L333.72 404.47 L333.88 404.57 L334.04 404.67 L334.2 404.78 L334.36 404.88 L334.52 404.99 L334.68 405.09 L334.84 405.2 L335 405.3 L335 405.3 L335.16 405.3 L335.32 405.3 L335.48 405.3 L335.64 405.3 L335.8 405.3 L335.8 405.3 Z" fill="#cd6f6c" stroke="none" stroke-width="1"/>
<path d="M271.7 405.3 L272.6 360 L273.6 334.3 L275.5 311.3 L278 301.7 L280.3 320.9 L282.2 330.4 L284.1 338.1 L286 345.7 L288 353.4 L290.8 358.2 L294 364 L297 369.5 L299.4 372.5 L302 371 L305.2 371.6 L308 374 L310.9 376.4 L316.7 380.2 L322.4 387.8 L326.5 394.5 L330 400 L333 404 L335 405.3" fill="none" stroke="#9a9ad4" stroke-width="0.8" stroke-linejoin="round"/>
<path d="M272.7 405.3 L273.8 370 L275 340 L275.9 332.3 L279.3 337.1 L282.2 343.8 L285.1 351.5 L287 357.2 L289.9 358.2 L293.7 359.1 L296.6 363 L299.4 364.9 L302.3 365.8 L304.2 364.9 L306.1 366.8 L309 363 L311.9 360.1 L313.8 362 L315.7 361 L318.6 366.8 L322.4 378.3 L326.2 387.8 L330 399.3 L332.9 404.1 L335.8 405.3" fill="none" stroke="#b01830" stroke-width="0.9" stroke-linejoin="round"/>
<line x1="255.6" y1="298.3" x2="255.6" y2="406" stroke="#222" stroke-width="0.9"/>
<line x1="255.1" y1="405.5" x2="356" y2="405.5" stroke="#222" stroke-width="0.9"/>
<line x1="253.4" y1="301.5" x2="255.6" y2="301.5" stroke="#222" stroke-width="0.7"/>
<line x1="253.4" y1="327.3" x2="255.6" y2="327.3" stroke="#222" stroke-width="0.7"/>
<line x1="253.4" y1="353.1" x2="255.6" y2="353.1" stroke="#222" stroke-width="0.7"/>
<line x1="253.4" y1="378.9" x2="255.6" y2="378.9" stroke="#222" stroke-width="0.7"/>
<line x1="254.2" y1="301.5" x2="255.6" y2="301.5" stroke="#222" stroke-width="0.6"/>
<line x1="254.2" y1="307.95" x2="255.6" y2="307.95" stroke="#222" stroke-width="0.6"/>
<line x1="254.2" y1="314.4" x2="255.6" y2="314.4" stroke="#222" stroke-width="0.6"/>
<line x1="254.2" y1="320.85" x2="255.6" y2="320.85" stroke="#222" stroke-width="0.6"/>
<line x1="254.2" y1="327.3" x2="255.6" y2="327.3" stroke="#222" stroke-width="0.6"/>
<line x1="254.2" y1="333.75" x2="255.6" y2="333.75" stroke="#222" stroke-width="0.6"/>
<line x1="254.2" y1="340.2" x2="255.6" y2="340.2" stroke="#222" stroke-width="0.6"/>
<line x1="254.2" y1="346.65" x2="255.6" y2="346.65" stroke="#222" stroke-width="0.6"/>
<line x1="254.2" y1="353.1" x2="255.6" y2="353.1" stroke="#222" stroke-width="0.6"/>
<line x1="254.2" y1="359.55" x2="255.6" y2="359.55" stroke="#222" stroke-width="0.6"/>
<line x1="254.2" y1="366" x2="255.6" y2="366" stroke="#222" stroke-width="0.6"/>
<line x1="254.2" y1="372.45" x2="255.6" y2="372.45" stroke="#222" stroke-width="0.6"/>
<line x1="254.2" y1="378.9" x2="255.6" y2="378.9" stroke="#222" stroke-width="0.6"/>
<line x1="254.2" y1="385.35" x2="255.6" y2="385.35" stroke="#222" stroke-width="0.6"/>
<line x1="254.2" y1="391.8" x2="255.6" y2="391.8" stroke="#222" stroke-width="0.6"/>
<line x1="254.2" y1="398.25" x2="255.6" y2="398.25" stroke="#222" stroke-width="0.6"/>
<line x1="254.2" y1="404.7" x2="255.6" y2="404.7" stroke="#222" stroke-width="0.6"/>
<line x1="256.2" y1="405.5" x2="256.2" y2="408.1" stroke="#222" stroke-width="0.7"/>
<line x1="281.2" y1="405.5" x2="281.2" y2="408.1" stroke="#222" stroke-width="0.7"/>
<line x1="305.8" y1="405.5" x2="305.8" y2="408.1" stroke="#222" stroke-width="0.7"/>
<line x1="330.8" y1="405.5" x2="330.8" y2="408.1" stroke="#222" stroke-width="0.7"/>
<line x1="355.4" y1="405.5" x2="355.4" y2="408.1" stroke="#222" stroke-width="0.7"/>
<line x1="263.73" y1="405.5" x2="263.73" y2="406.9" stroke="#222" stroke-width="0.6"/>
<line x1="268.13" y1="405.5" x2="268.13" y2="406.9" stroke="#222" stroke-width="0.6"/>
<line x1="271.25" y1="405.5" x2="271.25" y2="406.9" stroke="#222" stroke-width="0.6"/>
<line x1="273.67" y1="405.5" x2="273.67" y2="406.9" stroke="#222" stroke-width="0.6"/>
<line x1="275.65" y1="405.5" x2="275.65" y2="406.9" stroke="#222" stroke-width="0.6"/>
<line x1="277.33" y1="405.5" x2="277.33" y2="406.9" stroke="#222" stroke-width="0.6"/>
<line x1="278.78" y1="405.5" x2="278.78" y2="406.9" stroke="#222" stroke-width="0.6"/>
<line x1="280.06" y1="405.5" x2="280.06" y2="406.9" stroke="#222" stroke-width="0.6"/>
<line x1="288.61" y1="405.5" x2="288.61" y2="406.9" stroke="#222" stroke-width="0.6"/>
<line x1="292.94" y1="405.5" x2="292.94" y2="406.9" stroke="#222" stroke-width="0.6"/>
<line x1="296.01" y1="405.5" x2="296.01" y2="406.9" stroke="#222" stroke-width="0.6"/>
<line x1="298.39" y1="405.5" x2="298.39" y2="406.9" stroke="#222" stroke-width="0.6"/>
<line x1="300.34" y1="405.5" x2="300.34" y2="406.9" stroke="#222" stroke-width="0.6"/>
<line x1="301.99" y1="405.5" x2="301.99" y2="406.9" stroke="#222" stroke-width="0.6"/>
<line x1="303.42" y1="405.5" x2="303.42" y2="406.9" stroke="#222" stroke-width="0.6"/>
<line x1="304.67" y1="405.5" x2="304.67" y2="406.9" stroke="#222" stroke-width="0.6"/>
<line x1="313.33" y1="405.5" x2="313.33" y2="406.9" stroke="#222" stroke-width="0.6"/>
<line x1="317.73" y1="405.5" x2="317.73" y2="406.9" stroke="#222" stroke-width="0.6"/>
<line x1="320.85" y1="405.5" x2="320.85" y2="406.9" stroke="#222" stroke-width="0.6"/>
<line x1="323.27" y1="405.5" x2="323.27" y2="406.9" stroke="#222" stroke-width="0.6"/>
<line x1="325.25" y1="405.5" x2="325.25" y2="406.9" stroke="#222" stroke-width="0.6"/>
<line x1="326.93" y1="405.5" x2="326.93" y2="406.9" stroke="#222" stroke-width="0.6"/>
<line x1="328.38" y1="405.5" x2="328.38" y2="406.9" stroke="#222" stroke-width="0.6"/>
<line x1="329.66" y1="405.5" x2="329.66" y2="406.9" stroke="#222" stroke-width="0.6"/>
<line x1="338.21" y1="405.5" x2="338.21" y2="406.9" stroke="#222" stroke-width="0.6"/>
<line x1="342.54" y1="405.5" x2="342.54" y2="406.9" stroke="#222" stroke-width="0.6"/>
<line x1="345.61" y1="405.5" x2="345.61" y2="406.9" stroke="#222" stroke-width="0.6"/>
<line x1="347.99" y1="405.5" x2="347.99" y2="406.9" stroke="#222" stroke-width="0.6"/>
<line x1="349.94" y1="405.5" x2="349.94" y2="406.9" stroke="#222" stroke-width="0.6"/>
<line x1="351.59" y1="405.5" x2="351.59" y2="406.9" stroke="#222" stroke-width="0.6"/>
<line x1="353.02" y1="405.5" x2="353.02" y2="406.9" stroke="#222" stroke-width="0.6"/>
<line x1="354.27" y1="405.5" x2="354.27" y2="406.9" stroke="#222" stroke-width="0.6"/>
<rect x="297.2" y="315.5" width="9.8" height="2.9" fill="#a8102a" stroke="none" stroke-width="0"/>
<text x="309.9" y="319.3" font-size="6.5" text-anchor="start" fill="#333" font-weight="normal" textLength="32.8" lengthAdjust="spacingAndGlyphs">HEXIM1 OE</text>
<rect x="297.2" y="325.9" width="9.8" height="2.9" fill="#8c8cc4" stroke="none" stroke-width="0"/>
<text x="309.9" y="329.7" font-size="6.5" text-anchor="start" fill="#333" font-weight="normal" textLength="29.2" lengthAdjust="spacingAndGlyphs">OE+NVP2</text>
<text x="305.7" y="419" font-size="8.4" text-anchor="middle" fill="#444" font-weight="normal" textLength="11.5" lengthAdjust="spacingAndGlyphs" stroke="#444" stroke-width="0.24">HbF</text>
<text x="371" y="300.3" font-size="11" text-anchor="start" fill="#111" font-weight="bold">I</text>
<rect x="408.2" y="353" width="11.9" height="48.6" fill="#37ab35" stroke="rgba(0,0,0,0.25)" stroke-width="0.4"/>
<rect x="424.6" y="365.6" width="11.9" height="36" fill="#e80a7e" stroke="rgba(0,0,0,0.25)" stroke-width="0.4"/>
<rect x="441" y="332.2" width="11.9" height="69.4" fill="#bd6a14" stroke="rgba(0,0,0,0.25)" stroke-width="0.4"/>
<rect x="457.4" y="352.4" width="11.9" height="49.2" fill="#9186c2" stroke="rgba(0,0,0,0.25)" stroke-width="0.4"/>
<line x1="414.2" y1="347.5" x2="414.2" y2="358.5" stroke="#111" stroke-width="0.9"/>
<line x1="411.4" y1="347.5" x2="417" y2="347.5" stroke="#111" stroke-width="1"/>
<line x1="411.4" y1="358.5" x2="417" y2="358.5" stroke="#111" stroke-width="1"/>
<circle cx="414.2" cy="347.8" r="1.45" fill="#111"/>
<circle cx="414.2" cy="352.8" r="1.45" fill="#111"/>
<circle cx="414.2" cy="357.6" r="1.45" fill="#111"/>
<line x1="430.5" y1="364" x2="430.5" y2="369.5" stroke="#111" stroke-width="0.9"/>
<line x1="427.7" y1="364" x2="433.3" y2="364" stroke="#111" stroke-width="1"/>
<line x1="427.7" y1="369.5" x2="433.3" y2="369.5" stroke="#111" stroke-width="1"/>
<circle cx="426.8" cy="364.3" r="1.45" fill="#111"/>
<circle cx="434.2" cy="364.3" r="1.45" fill="#111"/>
<circle cx="430.5" cy="369" r="1.45" fill="#111"/>
<line x1="447" y1="324.5" x2="447" y2="340" stroke="#111" stroke-width="0.9"/>
<line x1="444.2" y1="324.5" x2="449.8" y2="324.5" stroke="#111" stroke-width="1"/>
<line x1="444.2" y1="340" x2="449.8" y2="340" stroke="#111" stroke-width="1"/>
<circle cx="447" cy="325" r="1.45" fill="#111"/>
<circle cx="447" cy="337.5" r="1.45" fill="#111"/>
<circle cx="447" cy="338.5" r="1.45" fill="#111"/>
<line x1="463.4" y1="345" x2="463.4" y2="359.3" stroke="#111" stroke-width="0.9"/>
<line x1="460.6" y1="345" x2="466.2" y2="345" stroke="#111" stroke-width="1"/>
<line x1="460.6" y1="359.3" x2="466.2" y2="359.3" stroke="#111" stroke-width="1"/>
<circle cx="463.4" cy="344.8" r="1.45" fill="#111"/>
<circle cx="460.2" cy="356" r="1.45" fill="#111"/>
<circle cx="466.6" cy="356" r="1.45" fill="#111"/>
<line x1="403.6" y1="314.5" x2="403.6" y2="402.2" stroke="#222" stroke-width="1.25"/>
<line x1="403" y1="401.6" x2="472.9" y2="401.6" stroke="#222" stroke-width="1.3"/>
<line x1="401" y1="401.6" x2="403.6" y2="401.6" stroke="#222" stroke-width="0.8"/>
<text x="397.6" y="403.85" font-size="6.3" text-anchor="end" fill="#3a3a3a" font-weight="normal">0</text>
<line x1="401" y1="380.47" x2="403.6" y2="380.47" stroke="#222" stroke-width="0.8"/>
<text x="397.6" y="382.72" font-size="6.3" text-anchor="end" fill="#3a3a3a" font-weight="normal">2000</text>
<line x1="401" y1="359.34" x2="403.6" y2="359.34" stroke="#222" stroke-width="0.8"/>
<text x="397.6" y="361.59" font-size="6.3" text-anchor="end" fill="#3a3a3a" font-weight="normal">4000</text>
<line x1="401" y1="338.21" x2="403.6" y2="338.21" stroke="#222" stroke-width="0.8"/>
<text x="397.6" y="340.46" font-size="6.3" text-anchor="end" fill="#3a3a3a" font-weight="normal">6000</text>
<line x1="401" y1="317.08" x2="403.6" y2="317.08" stroke="#222" stroke-width="0.8"/>
<text x="397.6" y="319.33" font-size="6.3" text-anchor="end" fill="#3a3a3a" font-weight="normal">8000</text>
<line x1="414.15" y1="401.6" x2="414.15" y2="404" stroke="#222" stroke-width="0.8"/>
<line x1="430.55" y1="401.6" x2="430.55" y2="404" stroke="#222" stroke-width="0.8"/>
<line x1="446.95" y1="401.6" x2="446.95" y2="404" stroke="#222" stroke-width="0.8"/>
<line x1="463.35" y1="401.6" x2="463.35" y2="404" stroke="#222" stroke-width="0.8"/>
<path d="M414.2 347 L414.2 314.5 L430 314.5 L430 362" fill="none" stroke="#333" stroke-width="0.9"/>
<text x="422.1" y="315.2" font-size="6.6" text-anchor="middle" fill="#333" font-weight="normal">*</text>
<path d="M447 321.7 L447 314.5 L463.4 314.5 L463.4 342.6" fill="none" stroke="#333" stroke-width="0.9"/>
<text x="455.2" y="315.2" font-size="6.6" text-anchor="middle" fill="#333" font-weight="normal">*</text>
<text transform="translate(416.7,410.8) rotate(-45)" font-size="6.1" text-anchor="end" fill="#333" font-weight="normal" stroke="#333" stroke-width="0.2">EV</text>
<text transform="translate(433,410.8) rotate(-45)" font-size="6.1" text-anchor="end" fill="#333" font-weight="normal" stroke="#333" stroke-width="0.2">EV+NVP2</text>
<text transform="translate(449.5,410.8) rotate(-45)" font-size="6.1" text-anchor="end" fill="#333" font-weight="normal" stroke="#333" stroke-width="0.2">OE</text>
<text transform="translate(465.9,410.8) rotate(-45)" font-size="6.1" text-anchor="end" fill="#333" font-weight="normal" stroke="#333" stroke-width="0.2">OE+NVP2</text>
<text transform="translate(378.6,359.5) rotate(-90)" font-size="8" text-anchor="middle" fill="#3a3a3a" font-weight="normal" textLength="73" lengthAdjust="spacingAndGlyphs" stroke="#3a3a3a" stroke-width="0.1">Median HbF expression</text>
<text x="9" y="460.6" font-size="11" text-anchor="start" fill="#111" font-weight="bold">J</text>
<rect x="37" y="501.8" width="16.7" height="55.7" fill="#bd6a14" stroke="rgba(0,0,0,0.25)" stroke-width="0.4"/>
<rect x="61.2" y="541.4" width="16.8" height="16.1" fill="#9186c2" stroke="rgba(0,0,0,0.25)" stroke-width="0.4"/>
<line x1="45.4" y1="487.9" x2="45.4" y2="515.7" stroke="#111" stroke-width="0.9"/>
<line x1="42.6" y1="487.9" x2="48.2" y2="487.9" stroke="#111" stroke-width="1"/>
<line x1="42.6" y1="515.7" x2="48.2" y2="515.7" stroke="#111" stroke-width="1"/>
<circle cx="45.4" cy="486.4" r="1.45" fill="#111"/>
<circle cx="42.6" cy="510" r="1.45" fill="#111"/>
<circle cx="47.8" cy="508" r="1.45" fill="#111"/>
<line x1="69.6" y1="536.8" x2="69.6" y2="541.5" stroke="#111" stroke-width="0.9"/>
<line x1="66.8" y1="536.8" x2="72.4" y2="536.8" stroke="#111" stroke-width="1"/>
<line x1="66.8" y1="541.5" x2="72.4" y2="541.5" stroke="#111" stroke-width="1"/>
<circle cx="69.6" cy="537.5" r="1.45" fill="#111"/>
<circle cx="66.6" cy="540.5" r="1.45" fill="#111"/>
<circle cx="72.6" cy="540.5" r="1.45" fill="#111"/>
<line x1="32" y1="467" x2="32" y2="558.1" stroke="#222" stroke-width="1.25"/>
<line x1="31.4" y1="557.5" x2="83.5" y2="557.5" stroke="#222" stroke-width="1.3"/>
<line x1="29.4" y1="557.5" x2="32" y2="557.5" stroke="#222" stroke-width="0.8"/>
<text x="26.6" y="559.75" font-size="6.4" text-anchor="end" fill="#3a3a3a" font-weight="normal">0</text>
<line x1="29.4" y1="528.26" x2="32" y2="528.26" stroke="#222" stroke-width="0.8"/>
<text x="26.6" y="530.51" font-size="6.4" text-anchor="end" fill="#3a3a3a" font-weight="normal">2</text>
<line x1="29.4" y1="499.02" x2="32" y2="499.02" stroke="#222" stroke-width="0.8"/>
<text x="26.6" y="501.27" font-size="6.4" text-anchor="end" fill="#3a3a3a" font-weight="normal">4</text>
<line x1="29.4" y1="469.78" x2="32" y2="469.78" stroke="#222" stroke-width="0.8"/>
<text x="26.6" y="472.03" font-size="6.4" text-anchor="end" fill="#3a3a3a" font-weight="normal">6</text>
<line x1="45.35" y1="557.5" x2="45.35" y2="559.9" stroke="#222" stroke-width="0.8"/>
<line x1="69.6" y1="557.5" x2="69.6" y2="559.9" stroke="#222" stroke-width="0.8"/>
<path d="M45.4 480.1 L45.4 474.5 L70.2 474.5 L70.2 538.6" fill="none" stroke="#333" stroke-width="0.9"/>
<text x="57.5" y="475.2" font-size="6.6" text-anchor="middle" fill="#333" font-weight="normal">*</text>
<text x="45.4" y="569.2" font-size="7" text-anchor="middle" fill="#333" font-weight="normal" stroke="#333" stroke-width="0.15">OE</text>
<text x="69.6" y="569.2" font-size="7" text-anchor="middle" fill="#333" font-weight="normal" textLength="29.5" lengthAdjust="spacingAndGlyphs" stroke="#333" stroke-width="0.15">OE+NVP2</text>
<text transform="translate(16.3,511.9) rotate(-90)" font-size="8" text-anchor="middle" fill="#3a3a3a" font-weight="normal" textLength="46.4" lengthAdjust="spacingAndGlyphs" stroke="#3a3a3a" stroke-width="0.1">% of GFP+ cells</text>
<text x="95.2" y="461" font-size="11" text-anchor="start" fill="#111" font-weight="bold">K</text>
<rect x="123.7" y="528.5" width="12.3" height="29.1" fill="#37ab35" stroke="rgba(0,0,0,0.25)" stroke-width="0.4"/>
<rect x="140" y="548.1" width="12.5" height="9.5" fill="#e80a7e" stroke="rgba(0,0,0,0.25)" stroke-width="0.4"/>
<rect x="156.5" y="503.6" width="12.3" height="54" fill="#bd6a14" stroke="rgba(0,0,0,0.25)" stroke-width="0.4"/>
<rect x="172.7" y="551.3" width="12.6" height="6.3" fill="#9186c2" stroke="rgba(0,0,0,0.25)" stroke-width="0.4"/>
<line x1="129.8" y1="526.4" x2="129.8" y2="530.5" stroke="#111" stroke-width="0.9"/>
<line x1="127" y1="526.4" x2="132.6" y2="526.4" stroke="#111" stroke-width="1"/>
<line x1="127" y1="530.5" x2="132.6" y2="530.5" stroke="#111" stroke-width="1"/>
<circle cx="125.5" cy="527" r="1.45" fill="#111"/>
<circle cx="131" cy="530" r="1.45" fill="#111"/>
<circle cx="134.5" cy="530.8" r="1.45" fill="#111"/>
<line x1="146.3" y1="544.5" x2="146.3" y2="549" stroke="#111" stroke-width="0.9"/>
<line x1="143.5" y1="544.5" x2="149.1" y2="544.5" stroke="#111" stroke-width="1"/>
<line x1="143.5" y1="549" x2="149.1" y2="549" stroke="#111" stroke-width="1"/>
<circle cx="146.3" cy="545" r="1.45" fill="#111"/>
<circle cx="142.5" cy="548.5" r="1.45" fill="#111"/>
<circle cx="150" cy="548.5" r="1.45" fill="#111"/>
<line x1="162.6" y1="487.9" x2="162.6" y2="518" stroke="#111" stroke-width="0.9"/>
<line x1="159.8" y1="487.9" x2="165.4" y2="487.9" stroke="#111" stroke-width="1"/>
<line x1="159.8" y1="518" x2="165.4" y2="518" stroke="#111" stroke-width="1"/>
<circle cx="162.5" cy="487.4" r="1.45" fill="#111"/>
<circle cx="162.5" cy="508.5" r="1.45" fill="#111"/>
<circle cx="162.5" cy="514.8" r="1.45" fill="#111"/>
<line x1="179" y1="550" x2="179" y2="552.5" stroke="#111" stroke-width="0.9"/>
<line x1="176.2" y1="550" x2="181.8" y2="550" stroke="#111" stroke-width="1"/>
<line x1="176.2" y1="552.5" x2="181.8" y2="552.5" stroke="#111" stroke-width="1"/>
<circle cx="175" cy="551" r="1.45" fill="#111"/>
<circle cx="179" cy="550.3" r="1.45" fill="#111"/>
<circle cx="183" cy="551" r="1.45" fill="#111"/>
<line x1="119.5" y1="470.3" x2="119.5" y2="558.2" stroke="#222" stroke-width="1.25"/>
<line x1="118.9" y1="557.6" x2="189.2" y2="557.6" stroke="#222" stroke-width="1.3"/>
<line x1="116.9" y1="557.6" x2="119.5" y2="557.6" stroke="#222" stroke-width="0.8"/>
<text x="113.3" y="559.85" font-size="6.4" text-anchor="end" fill="#3a3a3a" font-weight="normal">0</text>
<line x1="116.9" y1="536.5" x2="119.5" y2="536.5" stroke="#222" stroke-width="0.8"/>
<text x="113.3" y="538.75" font-size="6.4" text-anchor="end" fill="#3a3a3a" font-weight="normal">5</text>
<line x1="116.9" y1="515.4" x2="119.5" y2="515.4" stroke="#222" stroke-width="0.8"/>
<text x="113.3" y="517.65" font-size="6.4" text-anchor="end" fill="#3a3a3a" font-weight="normal">10</text>
<line x1="116.9" y1="494.3" x2="119.5" y2="494.3" stroke="#222" stroke-width="0.8"/>
<text x="113.3" y="496.55" font-size="6.4" text-anchor="end" fill="#3a3a3a" font-weight="normal">15</text>
<line x1="116.9" y1="473.2" x2="119.5" y2="473.2" stroke="#222" stroke-width="0.8"/>
<text x="113.3" y="475.45" font-size="6.4" text-anchor="end" fill="#3a3a3a" font-weight="normal">20</text>
<line x1="129.85" y1="557.6" x2="129.85" y2="560" stroke="#222" stroke-width="0.8"/>
<line x1="146.25" y1="557.6" x2="146.25" y2="560" stroke="#222" stroke-width="0.8"/>
<line x1="162.65" y1="557.6" x2="162.65" y2="560" stroke="#222" stroke-width="0.8"/>
<line x1="179" y1="557.6" x2="179" y2="560" stroke="#222" stroke-width="0.8"/>
<path d="M129.5 523.8 L129.5 477.4 L146.5 477.4 L146.5 544.2" fill="none" stroke="#333" stroke-width="0.9"/>
<text x="138" y="478.2" font-size="6.6" text-anchor="middle" fill="#333" font-weight="normal">*</text>
<path d="M162.2 483.2 L162.2 477.4 L179.2 477.4 L179.2 547.9" fill="none" stroke="#333" stroke-width="0.9"/>
<text x="170.7" y="478.2" font-size="6.6" text-anchor="middle" fill="#333" font-weight="normal">*</text>
<text transform="translate(132.3,566.8) rotate(-45)" font-size="6.1" text-anchor="end" fill="#333" font-weight="normal" stroke="#333" stroke-width="0.2">EV</text>
<text transform="translate(148.8,566.8) rotate(-45)" font-size="6.1" text-anchor="end" fill="#333" font-weight="normal" stroke="#333" stroke-width="0.2">EV+NVP2</text>
<text transform="translate(165.1,566.8) rotate(-45)" font-size="6.1" text-anchor="end" fill="#333" font-weight="normal" stroke="#333" stroke-width="0.2">OE</text>
<text transform="translate(181.5,566.8) rotate(-45)" font-size="6.1" text-anchor="end" fill="#333" font-weight="normal" stroke="#333" stroke-width="0.2">OE+NVP2</text>
<text transform="translate(101.2,513.7) rotate(-90)" font-size="7.8" text-anchor="middle" fill="#3a3a3a" font-weight="normal" textLength="44.4" lengthAdjust="spacingAndGlyphs" stroke="#3a3a3a" stroke-width="0.1">HbF+ cells (%)</text>
<text x="198.8" y="460" font-size="11" text-anchor="start" fill="#111" font-weight="bold">L</text>
<path d="M215.1 558 L215.1 558 L219.1 549.6 L223.1 505.3 L226.1 479.2 L228.2 465.5 L230.2 473.1 L232.2 501.3 L234.2 521.4 L237.2 535.5 L241.2 545.6 L245.3 550.6 L251.3 552.6 L260 552 L269.4 551.6 L275.5 549.6 L279.5 551.6 L283.5 555.7 L287.5 558 L287.5 558 Z" fill="#ee86b8" stroke="none" stroke-width="1"/>
<path d="M218.1 558 L218.1 558 L223.1 525.5 L227.1 495.3 L229.2 490.2 L231.2 499.3 L234.2 519.4 L237.2 534.5 L241.2 545.6 L245.3 546.6 L248.3 548.6 L251.3 552.6 L254.3 549.6 L257.3 545.2 L260.4 548.6 L265.4 549.6 L269.4 548.6 L272.4 543.6 L274.5 539.6 L277.5 543.6 L280.5 543.6 L283.5 549.6 L286.5 555.7 L289.6 558 L289.6 558 Z" fill="#9fd88a" stroke="none" stroke-width="1"/>
<path d="M215.1 558 L215.1 558 L215.29 558 L215.47 558 L215.66 558 L215.84 558 L216.03 558 L216.22 558 L216.4 558 L216.59 558 L216.78 558 L216.96 558 L217.15 558 L217.34 558 L217.52 558 L217.71 558 L217.89 558 L218.08 558 L218.1 558 L218.27 556.92 L218.45 555.71 L218.64 554.5 L218.82 553.29 L219.01 552.08 L219.1 551.5 L219.2 550.87 L219.38 549.66 L219.57 548.45 L219.76 547.23 L219.94 546.02 L220.13 544.81 L220.31 543.6 L220.5 542.39 L220.69 541.18 L220.87 539.97 L221.06 538.76 L221.25 537.55 L221.43 536.34 L221.62 535.13 L221.81 533.92 L221.99 532.71 L222.18 531.5 L222.36 530.29 L222.55 529.08 L222.74 527.86 L222.92 526.65 L223.1 525.5 L223.11 525.43 L223.29 524.03 L223.48 522.62 L223.67 521.22 L223.85 519.81 L224.04 518.4 L224.23 517 L224.41 515.59 L224.6 514.18 L224.78 512.78 L224.97 511.37 L225.16 509.97 L225.34 508.56 L225.53 507.15 L225.72 505.75 L225.9 504.34 L226.09 502.93 L226.1 502.85 L226.28 501.53 L226.46 500.12 L226.65 498.72 L226.83 497.31 L227.02 495.9 L227.1 495.3 L227.21 495.04 L227.39 494.59 L227.58 494.14 L227.76 493.69 L227.95 493.23 L228.14 492.78 L228.2 492.63 L228.32 492.33 L228.51 491.88 L228.7 491.42 L228.88 490.97 L229.07 490.52 L229.2 490.2 L229.25 490.45 L229.44 491.3 L229.63 492.15 L229.81 492.99 L230 493.84 L230.19 494.69 L230.2 494.75 L230.37 495.53 L230.56 496.38 L230.75 497.23 L230.93 498.08 L231.12 498.92 L231.2 499.3 L231.3 500 L231.49 501.24 L231.68 502.49 L231.86 503.74 L232.05 504.99 L232.2 506 L232.24 506.23 L232.42 507.48 L232.61 508.73 L232.79 509.98 L232.98 511.23 L233.17 512.47 L233.35 513.72 L233.54 514.97 L233.72 516.63 L233.91 518.5 L234.1 520.37 L234.2 521.4 L234.28 521.79 L234.47 522.67 L234.66 523.54 L234.84 524.42 L235.03 525.3 L235.22 526.17 L235.4 527.05 L235.59 527.92 L235.77 528.8 L235.96 529.67 L236.15 530.55 L236.33 531.42 L236.52 532.3 L236.71 533.17 L236.89 534.05 L237.08 534.92 L237.2 535.5 L237.26 535.66 L237.45 536.13 L237.64 536.6 L237.82 537.07 L238.01 537.54 L238.19 538.01 L238.38 538.48 L238.57 538.95 L238.75 539.42 L238.94 539.89 L239.13 540.36 L239.31 540.83 L239.5 541.3 L239.69 541.77 L239.87 542.24 L240.06 542.72 L240.24 543.19 L240.43 543.66 L240.62 544.13 L240.8 544.6 L240.99 545.07 L241.18 545.54 L241.2 545.6 L241.36 545.8 L241.55 546.02 L241.73 546.25 L241.92 546.48 L242.11 546.71 L242.29 546.93 L242.48 547.16 L242.66 547.39 L242.85 547.61 L243.04 547.84 L243.22 548.07 L243.41 548.3 L243.6 548.52 L243.78 548.75 L243.97 548.98 L244.16 549.2 L244.34 549.43 L244.53 549.66 L244.71 549.89 L244.9 550.11 L245.09 550.34 L245.27 550.57 L245.3 550.6 L245.46 550.65 L245.65 550.72 L245.83 550.78 L246.02 550.84 L246.2 550.9 L246.39 550.96 L246.58 551.03 L246.76 551.09 L246.95 551.15 L247.13 551.21 L247.32 551.27 L247.51 551.34 L247.69 551.4 L247.88 551.46 L248.07 551.52 L248.25 551.58 L248.3 551.6 L248.44 551.65 L248.62 551.71 L248.81 551.77 L249 551.83 L249.18 551.89 L249.37 551.96 L249.56 552.02 L249.74 552.08 L249.93 552.14 L250.12 552.21 L250.3 552.27 L250.49 552.33 L250.67 552.39 L250.86 552.45 L251.05 552.52 L251.23 552.58 L251.3 552.6 L251.42 552.59 L251.61 552.58 L251.79 552.57 L251.98 552.55 L252.16 552.54 L252.35 552.53 L252.54 552.51 L252.72 552.5 L252.91 552.49 L253.09 552.48 L253.28 552.46 L253.47 552.45 L253.65 552.44 L253.84 552.42 L254.03 552.41 L254.21 552.4 L254.3 552.39 L254.4 552.39 L254.59 552.37 L254.77 552.36 L254.96 552.35 L255.14 552.33 L255.33 552.32 L255.52 552.31 L255.7 552.3 L255.89 552.28 L256.07 552.27 L256.26 552.26 L256.45 552.25 L256.63 552.23 L256.82 552.22 L257.01 552.21 L257.19 552.19 L257.3 552.19 L257.38 552.18 L257.56 552.17 L257.75 552.16 L257.94 552.14 L258.12 552.13 L258.31 552.12 L258.5 552.1 L258.68 552.09 L258.87 552.08 L259.06 552.07 L259.24 552.05 L259.43 552.04 L259.61 552.03 L259.8 552.01 L259.99 552 L260 552 L260.17 551.99 L260.36 551.98 L260.4 551.98 L260.55 551.98 L260.73 551.97 L260.92 551.96 L261.1 551.95 L261.29 551.95 L261.48 551.94 L261.66 551.93 L261.85 551.92 L262.04 551.91 L262.22 551.91 L262.41 551.9 L262.59 551.89 L262.78 551.88 L262.97 551.87 L263.15 551.87 L263.34 551.86 L263.53 551.85 L263.71 551.84 L263.9 551.83 L264.08 551.83 L264.27 551.82 L264.46 551.81 L264.64 551.8 L264.83 551.79 L265.01 551.79 L265.2 551.78 L265.39 551.77 L265.4 551.77 L265.57 551.76 L265.76 551.75 L265.95 551.75 L266.13 551.74 L266.32 551.73 L266.5 551.72 L266.69 551.72 L266.88 551.71 L267.06 551.7 L267.25 551.69 L267.44 551.68 L267.62 551.68 L267.81 551.67 L268 551.66 L268.18 551.65 L268.37 551.64 L268.55 551.64 L268.74 551.63 L268.93 551.62 L269.11 551.61 L269.3 551.6 L269.4 551.6 L269.49 551.57 L269.67 551.51 L269.86 551.45 L270.04 551.39 L270.23 551.33 L270.42 551.27 L270.6 551.21 L270.79 551.14 L270.98 551.08 L271.16 551.02 L271.35 550.96 L271.53 550.9 L271.72 550.84 L271.91 550.78 L272.09 550.72 L272.28 550.66 L272.4 550.62 L272.47 550.6 L272.65 550.53 L272.84 550.47 L273.02 550.41 L273.21 550.35 L273.4 550.29 L273.58 550.23 L273.77 550.17 L273.96 550.11 L274.14 550.05 L274.33 549.98 L274.5 549.93 L274.51 549.92 L274.7 549.86 L274.89 549.8 L275.07 549.74 L275.26 549.68 L275.45 549.62 L275.5 549.6 L275.63 549.67 L275.82 549.76 L276 549.85 L276.19 549.95 L276.38 550.04 L276.56 550.13 L276.75 550.22 L276.94 550.32 L277.12 550.41 L277.31 550.5 L277.49 550.6 L277.5 550.6 L277.68 550.69 L277.87 550.78 L278.05 550.88 L278.24 550.97 L278.43 551.06 L278.61 551.16 L278.8 551.25 L278.98 551.34 L279.17 551.44 L279.36 551.53 L279.5 551.6 L279.54 551.64 L279.73 551.83 L279.92 552.03 L280.1 552.22 L280.29 552.41 L280.47 552.6 L280.5 552.62 L280.66 552.79 L280.85 552.98 L281.03 553.17 L281.22 553.36 L281.41 553.55 L281.59 553.74 L281.78 553.93 L281.96 554.13 L282.15 554.32 L282.34 554.51 L282.52 554.7 L282.71 554.89 L282.9 555.08 L283.08 555.27 L283.27 555.46 L283.45 555.65 L283.5 555.7 L283.64 555.78 L283.83 555.89 L284.01 555.99 L284.2 556.1 L284.38 556.21 L284.57 556.32 L284.76 556.42 L284.94 556.53 L285.13 556.64 L285.32 556.74 L285.5 556.85 L285.69 556.96 L285.88 557.07 L286.06 557.17 L286.25 557.28 L286.43 557.39 L286.5 557.42 L286.62 557.49 L286.81 557.6 L286.99 557.71 L287.18 557.82 L287.37 557.92 L287.5 558 L287.55 558 L287.74 558 L287.92 558 L288.11 558 L288.3 558 L288.48 558 L288.67 558 L288.86 558 L289.04 558 L289.23 558 L289.41 558 L289.6 558 L289.6 558 Z" fill="#a8a27c" stroke="none" stroke-width="1"/>
<path d="M215.1 558 L219.1 549.6 L223.1 505.3 L226.1 479.2 L228.2 465.5 L230.2 473.1 L232.2 501.3 L234.2 521.4 L237.2 535.5 L241.2 545.6 L245.3 550.6 L251.3 552.6 L260 552 L269.4 551.6 L275.5 549.6 L279.5 551.6 L283.5 555.7 L287.5 558" fill="none" stroke="#d0307a" stroke-width="0.9" stroke-linejoin="round"/>
<path d="M218.1 558 L223.1 525.5 L227.1 495.3 L229.2 490.2 L231.2 499.3 L234.2 519.4 L237.2 534.5 L241.2 545.6 L245.3 546.6 L248.3 548.6 L251.3 552.6 L254.3 549.6 L257.3 545.2 L260.4 548.6 L265.4 549.6 L269.4 548.6 L272.4 543.6 L274.5 539.6 L277.5 543.6 L280.5 543.6 L283.5 549.6 L286.5 555.7 L289.6 558" fill="none" stroke="#4aa840" stroke-width="0.9" stroke-linejoin="round"/>
<line x1="210.4" y1="462.8" x2="210.4" y2="558.6" stroke="#222" stroke-width="0.9"/>
<line x1="209.9" y1="558.1" x2="293.6" y2="558.1" stroke="#222" stroke-width="0.9"/>
<line x1="208.2" y1="465.5" x2="210.4" y2="465.5" stroke="#222" stroke-width="0.7"/>
<line x1="208.2" y1="488.7" x2="210.4" y2="488.7" stroke="#222" stroke-width="0.7"/>
<line x1="208.2" y1="511.9" x2="210.4" y2="511.9" stroke="#222" stroke-width="0.7"/>
<line x1="208.2" y1="535.1" x2="210.4" y2="535.1" stroke="#222" stroke-width="0.7"/>
<line x1="209" y1="465.5" x2="210.4" y2="465.5" stroke="#222" stroke-width="0.6"/>
<line x1="209" y1="471.3" x2="210.4" y2="471.3" stroke="#222" stroke-width="0.6"/>
<line x1="209" y1="477.1" x2="210.4" y2="477.1" stroke="#222" stroke-width="0.6"/>
<line x1="209" y1="482.9" x2="210.4" y2="482.9" stroke="#222" stroke-width="0.6"/>
<line x1="209" y1="488.7" x2="210.4" y2="488.7" stroke="#222" stroke-width="0.6"/>
<line x1="209" y1="494.5" x2="210.4" y2="494.5" stroke="#222" stroke-width="0.6"/>
<line x1="209" y1="500.3" x2="210.4" y2="500.3" stroke="#222" stroke-width="0.6"/>
<line x1="209" y1="506.1" x2="210.4" y2="506.1" stroke="#222" stroke-width="0.6"/>
<line x1="209" y1="511.9" x2="210.4" y2="511.9" stroke="#222" stroke-width="0.6"/>
<line x1="209" y1="517.7" x2="210.4" y2="517.7" stroke="#222" stroke-width="0.6"/>
<line x1="209" y1="523.5" x2="210.4" y2="523.5" stroke="#222" stroke-width="0.6"/>
<line x1="209" y1="529.3" x2="210.4" y2="529.3" stroke="#222" stroke-width="0.6"/>
<line x1="209" y1="535.1" x2="210.4" y2="535.1" stroke="#222" stroke-width="0.6"/>
<line x1="209" y1="540.9" x2="210.4" y2="540.9" stroke="#222" stroke-width="0.6"/>
<line x1="209" y1="546.7" x2="210.4" y2="546.7" stroke="#222" stroke-width="0.6"/>
<line x1="209" y1="552.5" x2="210.4" y2="552.5" stroke="#222" stroke-width="0.6"/>
<line x1="209" y1="558.3" x2="210.4" y2="558.3" stroke="#222" stroke-width="0.6"/>
<line x1="211" y1="558.1" x2="211" y2="560.7" stroke="#222" stroke-width="0.7"/>
<line x1="230" y1="558.1" x2="230" y2="560.7" stroke="#222" stroke-width="0.7"/>
<line x1="249.5" y1="558.1" x2="249.5" y2="560.7" stroke="#222" stroke-width="0.7"/>
<line x1="269" y1="558.1" x2="269" y2="560.7" stroke="#222" stroke-width="0.7"/>
<line x1="288.5" y1="558.1" x2="288.5" y2="560.7" stroke="#222" stroke-width="0.7"/>
<line x1="216.72" y1="558.1" x2="216.72" y2="559.5" stroke="#222" stroke-width="0.6"/>
<line x1="220.07" y1="558.1" x2="220.07" y2="559.5" stroke="#222" stroke-width="0.6"/>
<line x1="222.44" y1="558.1" x2="222.44" y2="559.5" stroke="#222" stroke-width="0.6"/>
<line x1="224.28" y1="558.1" x2="224.28" y2="559.5" stroke="#222" stroke-width="0.6"/>
<line x1="225.78" y1="558.1" x2="225.78" y2="559.5" stroke="#222" stroke-width="0.6"/>
<line x1="227.06" y1="558.1" x2="227.06" y2="559.5" stroke="#222" stroke-width="0.6"/>
<line x1="228.16" y1="558.1" x2="228.16" y2="559.5" stroke="#222" stroke-width="0.6"/>
<line x1="229.13" y1="558.1" x2="229.13" y2="559.5" stroke="#222" stroke-width="0.6"/>
<line x1="235.87" y1="558.1" x2="235.87" y2="559.5" stroke="#222" stroke-width="0.6"/>
<line x1="239.3" y1="558.1" x2="239.3" y2="559.5" stroke="#222" stroke-width="0.6"/>
<line x1="241.74" y1="558.1" x2="241.74" y2="559.5" stroke="#222" stroke-width="0.6"/>
<line x1="243.63" y1="558.1" x2="243.63" y2="559.5" stroke="#222" stroke-width="0.6"/>
<line x1="245.17" y1="558.1" x2="245.17" y2="559.5" stroke="#222" stroke-width="0.6"/>
<line x1="246.48" y1="558.1" x2="246.48" y2="559.5" stroke="#222" stroke-width="0.6"/>
<line x1="247.61" y1="558.1" x2="247.61" y2="559.5" stroke="#222" stroke-width="0.6"/>
<line x1="248.61" y1="558.1" x2="248.61" y2="559.5" stroke="#222" stroke-width="0.6"/>
<line x1="255.37" y1="558.1" x2="255.37" y2="559.5" stroke="#222" stroke-width="0.6"/>
<line x1="258.8" y1="558.1" x2="258.8" y2="559.5" stroke="#222" stroke-width="0.6"/>
<line x1="261.24" y1="558.1" x2="261.24" y2="559.5" stroke="#222" stroke-width="0.6"/>
<line x1="263.13" y1="558.1" x2="263.13" y2="559.5" stroke="#222" stroke-width="0.6"/>
<line x1="264.67" y1="558.1" x2="264.67" y2="559.5" stroke="#222" stroke-width="0.6"/>
<line x1="265.98" y1="558.1" x2="265.98" y2="559.5" stroke="#222" stroke-width="0.6"/>
<line x1="267.11" y1="558.1" x2="267.11" y2="559.5" stroke="#222" stroke-width="0.6"/>
<line x1="268.11" y1="558.1" x2="268.11" y2="559.5" stroke="#222" stroke-width="0.6"/>
<line x1="274.87" y1="558.1" x2="274.87" y2="559.5" stroke="#222" stroke-width="0.6"/>
<line x1="278.3" y1="558.1" x2="278.3" y2="559.5" stroke="#222" stroke-width="0.6"/>
<line x1="280.74" y1="558.1" x2="280.74" y2="559.5" stroke="#222" stroke-width="0.6"/>
<line x1="282.63" y1="558.1" x2="282.63" y2="559.5" stroke="#222" stroke-width="0.6"/>
<line x1="284.17" y1="558.1" x2="284.17" y2="559.5" stroke="#222" stroke-width="0.6"/>
<line x1="285.48" y1="558.1" x2="285.48" y2="559.5" stroke="#222" stroke-width="0.6"/>
<line x1="286.61" y1="558.1" x2="286.61" y2="559.5" stroke="#222" stroke-width="0.6"/>
<line x1="287.61" y1="558.1" x2="287.61" y2="559.5" stroke="#222" stroke-width="0.6"/>
<rect x="251.8" y="468.7" width="9.2" height="2.9" fill="#2e9a3a" stroke="none" stroke-width="0"/>
<text x="264.2" y="472" font-size="6.5" text-anchor="start" fill="#333" font-weight="normal">EV</text>
<rect x="251.8" y="479.3" width="9.2" height="3" fill="#d0106e" stroke="none" stroke-width="0"/>
<text x="264.2" y="483.1" font-size="6.5" text-anchor="start" fill="#333" font-weight="normal" textLength="27.6" lengthAdjust="spacingAndGlyphs">EV+NVP2</text>
<text x="253" y="571" font-size="8.4" text-anchor="middle" fill="#444" font-weight="normal" textLength="12" lengthAdjust="spacingAndGlyphs" stroke="#444" stroke-width="0.24">HbF</text>
<path d="M321 558 L321 558 L322.7 543.4 L325 529.6 L327.3 512.3 L328.5 500.8 L330 478 L331.2 465.5 L333.2 473.1 L335.2 479.2 L336.3 492 L337.2 502 L339.2 519 L341.5 531 L344 540 L347.5 546.5 L351 549.5 L354 550 L356.1 549.2 L358.4 547.5 L360.2 551.5 L362.5 554.5 L365 558 L365 558 Z" fill="#b6b4e0" stroke="none" stroke-width="1"/>
<path d="M314 558 L314 558 L314 552.2 L321.5 552.2 L325 551 L327.3 545.7 L329.6 531.9 L333.1 514.6 L336.8 503.3 L340 511.1 L343.4 522.7 L346.3 534.2 L349.8 542.3 L352.7 549.2 L354.4 552.1 L365.4 552.1 L366.5 550.5 L367.7 545.4 L371.5 544.6 L373.1 537.7 L375 536.9 L376.5 539.2 L379.2 536.9 L383.1 531.5 L385.4 535.4 L386.9 538.8 L388.8 540.4 L390.4 543.8 L391.5 550.8 L392.3 558 L392.3 558 Z" fill="#e48c80" stroke="none" stroke-width="1"/>
<path d="M314 558 L314 558 L314.2 558 L314.39 558 L314.59 558 L314.78 558 L314.98 558 L315.17 558 L315.37 558 L315.57 558 L315.76 558 L315.96 558 L316.15 558 L316.35 558 L316.54 558 L316.74 558 L316.94 558 L317.13 558 L317.33 558 L317.52 558 L317.72 558 L317.92 558 L318.11 558 L318.31 558 L318.5 558 L318.7 558 L318.89 558 L319.09 558 L319.29 558 L319.48 558 L319.68 558 L319.87 558 L320.07 558 L320.26 558 L320.46 558 L320.66 558 L320.85 558 L321 558 L321.05 557.6 L321.24 555.92 L321.44 554.23 L321.5 553.71 L321.63 552.55 L321.83 552.09 L322.03 552.02 L322.22 551.95 L322.42 551.89 L322.61 551.82 L322.7 551.79 L322.81 551.75 L323 551.68 L323.2 551.62 L323.4 551.55 L323.59 551.48 L323.79 551.42 L323.98 551.35 L324.18 551.28 L324.37 551.21 L324.57 551.15 L324.77 551.08 L324.96 551.01 L325 551 L325.16 550.64 L325.35 550.19 L325.55 549.73 L325.75 549.28 L325.94 548.83 L326.14 548.38 L326.33 547.93 L326.53 547.48 L326.72 547.03 L326.92 546.58 L327.12 546.13 L327.3 545.7 L327.31 545.63 L327.51 544.46 L327.7 543.29 L327.9 542.11 L328.09 540.94 L328.29 539.76 L328.49 538.59 L328.5 538.5 L328.68 537.41 L328.88 536.24 L329.07 535.06 L329.27 533.89 L329.46 532.71 L329.6 531.9 L329.66 531.6 L329.86 530.64 L330 529.92 L330.05 529.67 L330.25 528.7 L330.44 527.73 L330.64 526.77 L330.83 525.8 L331.03 524.83 L331.2 523.99 L331.23 523.86 L331.42 522.9 L331.62 521.93 L331.81 520.96 L332.01 519.99 L332.2 519.03 L332.4 518.06 L332.6 517.09 L332.79 516.12 L332.99 515.15 L333.1 514.6 L333.18 514.34 L333.2 514.29 L333.38 513.75 L333.57 513.15 L333.77 512.55 L333.97 511.95 L334.16 511.36 L334.36 510.76 L334.55 510.16 L334.75 509.56 L334.95 508.96 L335.14 508.37 L335.2 508.19 L335.34 507.77 L335.53 507.17 L335.73 506.57 L335.92 505.98 L336.12 505.38 L336.3 504.83 L336.32 504.78 L336.51 504.18 L336.71 503.58 L336.8 503.3 L336.9 503.55 L337.1 504.03 L337.2 504.27 L337.29 504.5 L337.49 504.98 L337.69 506.13 L337.88 507.79 L338.08 509.46 L338.27 511.12 L338.47 512.78 L338.66 514.45 L338.86 516.11 L339.06 517.78 L339.2 519 L339.25 519.27 L339.45 520.29 L339.64 521.31 L339.84 522.33 L340 523.17 L340.03 523.36 L340.23 524.38 L340.43 525.4 L340.62 526.42 L340.82 527.44 L341.01 528.46 L341.21 529.48 L341.41 530.5 L341.5 531 L341.6 531.36 L341.8 532.07 L341.99 532.77 L342.19 533.48 L342.38 534.18 L342.58 534.89 L342.78 535.59 L342.97 536.3 L343.17 537 L343.36 537.71 L343.4 537.84 L343.56 538.41 L343.75 539.11 L343.95 539.82 L344 540 L344.15 540.27 L344.34 540.63 L344.54 541 L344.73 541.36 L344.93 541.72 L345.12 542.09 L345.32 542.45 L345.52 542.81 L345.71 543.18 L345.91 543.54 L346.1 543.91 L346.3 544.27 L346.3 544.27 L346.49 544.63 L346.69 545 L346.89 545.36 L347.08 545.72 L347.28 546.09 L347.47 546.45 L347.5 546.5 L347.67 546.64 L347.86 546.81 L348.06 546.98 L348.26 547.15 L348.45 547.32 L348.65 547.48 L348.84 547.65 L349.04 547.82 L349.24 547.99 L349.43 548.15 L349.63 548.32 L349.8 548.47 L349.82 548.49 L350.02 548.66 L350.21 548.83 L350.41 548.99 L350.61 549.16 L350.8 549.33 L351 549.5 L351 549.5 L351.19 549.53 L351.39 549.56 L351.58 549.6 L351.78 549.63 L351.98 549.66 L352.17 549.7 L352.37 549.73 L352.56 549.76 L352.7 549.78 L352.76 549.79 L352.95 549.83 L353.15 549.97 L353.35 550.3 L353.54 550.64 L353.74 550.97 L353.93 551.3 L354 551.42 L354.13 551.64 L354.32 551.97 L354.4 552.1 L354.52 552.1 L354.72 552.1 L354.91 552.1 L355.11 552.1 L355.3 552.1 L355.5 552.1 L355.69 552.1 L355.89 552.1 L356.09 552.1 L356.1 552.1 L356.28 552.1 L356.48 552.1 L356.67 552.1 L356.87 552.1 L357.06 552.1 L357.26 552.1 L357.46 552.1 L357.65 552.1 L357.85 552.1 L358.04 552.1 L358.24 552.1 L358.4 552.1 L358.44 552.1 L358.63 552.1 L358.83 552.1 L359.02 552.1 L359.22 552.1 L359.41 552.1 L359.61 552.1 L359.81 552.1 L360 552.1 L360.2 552.1 L360.2 552.1 L360.39 552.1 L360.59 552.1 L360.78 552.26 L360.98 552.52 L361.18 552.77 L361.37 553.03 L361.57 553.28 L361.76 553.54 L361.96 553.79 L362.15 554.05 L362.35 554.3 L362.5 554.5 L362.55 554.56 L362.74 554.84 L362.94 555.11 L363.13 555.39 L363.33 555.66 L363.52 555.93 L363.72 556.21 L363.92 556.48 L364.11 556.76 L364.31 557.03 L364.5 557.3 L364.7 557.58 L364.89 557.85 L365 558 L365.09 558 L365.29 558 L365.4 558 L365.48 558 L365.68 558 L365.87 558 L366.07 558 L366.27 558 L366.46 558 L366.5 558 L366.66 558 L366.85 558 L367.05 558 L367.24 558 L367.44 558 L367.64 558 L367.7 558 L367.83 558 L368.03 558 L368.22 558 L368.42 558 L368.61 558 L368.81 558 L369.01 558 L369.2 558 L369.4 558 L369.59 558 L369.79 558 L369.98 558 L370.18 558 L370.38 558 L370.57 558 L370.77 558 L370.96 558 L371.16 558 L371.35 558 L371.5 558 L371.55 558 L371.75 558 L371.94 558 L372.14 558 L372.33 558 L372.53 558 L372.73 558 L372.92 558 L373.1 558 L373.12 558 L373.31 558 L373.51 558 L373.7 558 L373.9 558 L374.1 558 L374.29 558 L374.49 558 L374.68 558 L374.88 558 L375 558 L375.07 558 L375.27 558 L375.47 558 L375.66 558 L375.86 558 L376.05 558 L376.25 558 L376.44 558 L376.5 558 L376.64 558 L376.84 558 L377.03 558 L377.23 558 L377.42 558 L377.62 558 L377.81 558 L378.01 558 L378.21 558 L378.4 558 L378.6 558 L378.79 558 L378.99 558 L379.18 558 L379.2 558 L379.38 558 L379.58 558 L379.77 558 L379.97 558 L380.16 558 L380.36 558 L380.56 558 L380.75 558 L380.95 558 L381.14 558 L381.34 558 L381.53 558 L381.73 558 L381.93 558 L382.12 558 L382.32 558 L382.51 558 L382.71 558 L382.9 558 L383.1 558 L383.1 558 L383.3 558 L383.49 558 L383.69 558 L383.88 558 L384.08 558 L384.27 558 L384.47 558 L384.67 558 L384.86 558 L385.06 558 L385.25 558 L385.4 558 L385.45 558 L385.64 558 L385.84 558 L386.04 558 L386.23 558 L386.43 558 L386.62 558 L386.82 558 L386.9 558 L387.01 558 L387.21 558 L387.41 558 L387.6 558 L387.8 558 L387.99 558 L388.19 558 L388.38 558 L388.58 558 L388.78 558 L388.8 558 L388.97 558 L389.17 558 L389.36 558 L389.56 558 L389.76 558 L389.95 558 L390.15 558 L390.34 558 L390.4 558 L390.54 558 L390.73 558 L390.93 558 L391.13 558 L391.32 558 L391.5 558 L391.52 558 L391.71 558 L391.91 558 L392.1 558 L392.3 558 L392.3 558 Z" fill="#d06a6c" stroke="none" stroke-width="1"/>
<path d="M321 558 L322.7 543.4 L325 529.6 L327.3 512.3 L328.5 500.8 L330 478 L331.2 465.5 L333.2 473.1 L335.2 479.2 L336.3 492 L337.2 502 L339.2 519 L341.5 531 L344 540 L347.5 546.5 L351 549.5 L354 550 L356.1 549.2 L358.4 547.5 L360.2 551.5 L362.5 554.5 L365 558" fill="none" stroke="#9a9ad4" stroke-width="0.8" stroke-linejoin="round"/>
<path d="M314 558 L314 552.2 L321.5 552.2 L325 551 L327.3 545.7 L329.6 531.9 L333.1 514.6 L336.8 503.3 L340 511.1 L343.4 522.7 L346.3 534.2 L349.8 542.3 L352.7 549.2 L354.4 552.1 L365.4 552.1 L366.5 550.5 L367.7 545.4 L371.5 544.6 L373.1 537.7 L375 536.9 L376.5 539.2 L379.2 536.9 L383.1 531.5 L385.4 535.4 L386.9 538.8 L388.8 540.4 L390.4 543.8 L391.5 550.8 L392.3 558" fill="none" stroke="#b01830" stroke-width="0.9" stroke-linejoin="round"/>
<line x1="314.2" y1="462.8" x2="314.2" y2="558.6" stroke="#222" stroke-width="0.9"/>
<line x1="313.7" y1="558.1" x2="397.7" y2="558.1" stroke="#222" stroke-width="0.9"/>
<line x1="312" y1="465.5" x2="314.2" y2="465.5" stroke="#222" stroke-width="0.7"/>
<line x1="312" y1="488.7" x2="314.2" y2="488.7" stroke="#222" stroke-width="0.7"/>
<line x1="312" y1="511.9" x2="314.2" y2="511.9" stroke="#222" stroke-width="0.7"/>
<line x1="312" y1="535.1" x2="314.2" y2="535.1" stroke="#222" stroke-width="0.7"/>
<line x1="312.8" y1="465.5" x2="314.2" y2="465.5" stroke="#222" stroke-width="0.6"/>
<line x1="312.8" y1="471.3" x2="314.2" y2="471.3" stroke="#222" stroke-width="0.6"/>
<line x1="312.8" y1="477.1" x2="314.2" y2="477.1" stroke="#222" stroke-width="0.6"/>
<line x1="312.8" y1="482.9" x2="314.2" y2="482.9" stroke="#222" stroke-width="0.6"/>
<line x1="312.8" y1="488.7" x2="314.2" y2="488.7" stroke="#222" stroke-width="0.6"/>
<line x1="312.8" y1="494.5" x2="314.2" y2="494.5" stroke="#222" stroke-width="0.6"/>
<line x1="312.8" y1="500.3" x2="314.2" y2="500.3" stroke="#222" stroke-width="0.6"/>
<line x1="312.8" y1="506.1" x2="314.2" y2="506.1" stroke="#222" stroke-width="0.6"/>
<line x1="312.8" y1="511.9" x2="314.2" y2="511.9" stroke="#222" stroke-width="0.6"/>
<line x1="312.8" y1="517.7" x2="314.2" y2="517.7" stroke="#222" stroke-width="0.6"/>
<line x1="312.8" y1="523.5" x2="314.2" y2="523.5" stroke="#222" stroke-width="0.6"/>
<line x1="312.8" y1="529.3" x2="314.2" y2="529.3" stroke="#222" stroke-width="0.6"/>
<line x1="312.8" y1="535.1" x2="314.2" y2="535.1" stroke="#222" stroke-width="0.6"/>
<line x1="312.8" y1="540.9" x2="314.2" y2="540.9" stroke="#222" stroke-width="0.6"/>
<line x1="312.8" y1="546.7" x2="314.2" y2="546.7" stroke="#222" stroke-width="0.6"/>
<line x1="312.8" y1="552.5" x2="314.2" y2="552.5" stroke="#222" stroke-width="0.6"/>
<line x1="312.8" y1="558.3" x2="314.2" y2="558.3" stroke="#222" stroke-width="0.6"/>
<line x1="317.5" y1="558.1" x2="317.5" y2="560.7" stroke="#222" stroke-width="0.7"/>
<line x1="336.5" y1="558.1" x2="336.5" y2="560.7" stroke="#222" stroke-width="0.7"/>
<line x1="356" y1="558.1" x2="356" y2="560.7" stroke="#222" stroke-width="0.7"/>
<line x1="375.5" y1="558.1" x2="375.5" y2="560.7" stroke="#222" stroke-width="0.7"/>
<line x1="395" y1="558.1" x2="395" y2="560.7" stroke="#222" stroke-width="0.7"/>
<line x1="323.22" y1="558.1" x2="323.22" y2="559.5" stroke="#222" stroke-width="0.6"/>
<line x1="326.57" y1="558.1" x2="326.57" y2="559.5" stroke="#222" stroke-width="0.6"/>
<line x1="328.94" y1="558.1" x2="328.94" y2="559.5" stroke="#222" stroke-width="0.6"/>
<line x1="330.78" y1="558.1" x2="330.78" y2="559.5" stroke="#222" stroke-width="0.6"/>
<line x1="332.28" y1="558.1" x2="332.28" y2="559.5" stroke="#222" stroke-width="0.6"/>
<line x1="333.56" y1="558.1" x2="333.56" y2="559.5" stroke="#222" stroke-width="0.6"/>
<line x1="334.66" y1="558.1" x2="334.66" y2="559.5" stroke="#222" stroke-width="0.6"/>
<line x1="335.63" y1="558.1" x2="335.63" y2="559.5" stroke="#222" stroke-width="0.6"/>
<line x1="342.37" y1="558.1" x2="342.37" y2="559.5" stroke="#222" stroke-width="0.6"/>
<line x1="345.8" y1="558.1" x2="345.8" y2="559.5" stroke="#222" stroke-width="0.6"/>
<line x1="348.24" y1="558.1" x2="348.24" y2="559.5" stroke="#222" stroke-width="0.6"/>
<line x1="350.13" y1="558.1" x2="350.13" y2="559.5" stroke="#222" stroke-width="0.6"/>
<line x1="351.67" y1="558.1" x2="351.67" y2="559.5" stroke="#222" stroke-width="0.6"/>
<line x1="352.98" y1="558.1" x2="352.98" y2="559.5" stroke="#222" stroke-width="0.6"/>
<line x1="354.11" y1="558.1" x2="354.11" y2="559.5" stroke="#222" stroke-width="0.6"/>
<line x1="355.11" y1="558.1" x2="355.11" y2="559.5" stroke="#222" stroke-width="0.6"/>
<line x1="361.87" y1="558.1" x2="361.87" y2="559.5" stroke="#222" stroke-width="0.6"/>
<line x1="365.3" y1="558.1" x2="365.3" y2="559.5" stroke="#222" stroke-width="0.6"/>
<line x1="367.74" y1="558.1" x2="367.74" y2="559.5" stroke="#222" stroke-width="0.6"/>
<line x1="369.63" y1="558.1" x2="369.63" y2="559.5" stroke="#222" stroke-width="0.6"/>
<line x1="371.17" y1="558.1" x2="371.17" y2="559.5" stroke="#222" stroke-width="0.6"/>
<line x1="372.48" y1="558.1" x2="372.48" y2="559.5" stroke="#222" stroke-width="0.6"/>
<line x1="373.61" y1="558.1" x2="373.61" y2="559.5" stroke="#222" stroke-width="0.6"/>
<line x1="374.61" y1="558.1" x2="374.61" y2="559.5" stroke="#222" stroke-width="0.6"/>
<line x1="381.37" y1="558.1" x2="381.37" y2="559.5" stroke="#222" stroke-width="0.6"/>
<line x1="384.8" y1="558.1" x2="384.8" y2="559.5" stroke="#222" stroke-width="0.6"/>
<line x1="387.24" y1="558.1" x2="387.24" y2="559.5" stroke="#222" stroke-width="0.6"/>
<line x1="389.13" y1="558.1" x2="389.13" y2="559.5" stroke="#222" stroke-width="0.6"/>
<line x1="390.67" y1="558.1" x2="390.67" y2="559.5" stroke="#222" stroke-width="0.6"/>
<line x1="391.98" y1="558.1" x2="391.98" y2="559.5" stroke="#222" stroke-width="0.6"/>
<line x1="393.11" y1="558.1" x2="393.11" y2="559.5" stroke="#222" stroke-width="0.6"/>
<line x1="394.11" y1="558.1" x2="394.11" y2="559.5" stroke="#222" stroke-width="0.6"/>
<rect x="352" y="468.7" width="8.7" height="2.8" fill="#a8102a" stroke="none" stroke-width="0"/>
<text x="364.1" y="472.1" font-size="6.5" text-anchor="start" fill="#333" font-weight="normal" textLength="34.1" lengthAdjust="spacingAndGlyphs">HEXIM1 OE</text>
<rect x="352" y="479.1" width="8.7" height="2.7" fill="#8c8cc4" stroke="none" stroke-width="0"/>
<text x="364.1" y="482.8" font-size="6.5" text-anchor="start" fill="#333" font-weight="normal" textLength="29.1" lengthAdjust="spacingAndGlyphs">OE+NVP2</text>
<text x="356" y="571" font-size="8.4" text-anchor="middle" fill="#444" font-weight="normal" textLength="11.8" lengthAdjust="spacingAndGlyphs" stroke="#444" stroke-width="0.24">HbF</text>
<text x="407.8" y="461" font-size="11" text-anchor="start" fill="#111" font-weight="bold">M</text>
<rect x="448.7" y="535.6" width="12.1" height="21.5" fill="#37ab35" stroke="rgba(0,0,0,0.25)" stroke-width="0.4"/>
<rect x="464.3" y="546.4" width="12.1" height="10.7" fill="#e80a7e" stroke="rgba(0,0,0,0.25)" stroke-width="0.4"/>
<rect x="481" y="501.4" width="12.6" height="55.7" fill="#bd6a14" stroke="rgba(0,0,0,0.25)" stroke-width="0.4"/>
<rect x="497.7" y="548.5" width="12.3" height="8.6" fill="#9186c2" stroke="rgba(0,0,0,0.25)" stroke-width="0.4"/>
<line x1="454.8" y1="535" x2="454.8" y2="536" stroke="#111" stroke-width="0.9"/>
<line x1="452" y1="535" x2="457.6" y2="535" stroke="#111" stroke-width="1"/>
<line x1="452" y1="536" x2="457.6" y2="536" stroke="#111" stroke-width="1"/>
<circle cx="450.8" cy="535.5" r="1.45" fill="#111"/>
<circle cx="454.8" cy="535.5" r="1.45" fill="#111"/>
<circle cx="458.8" cy="535.5" r="1.45" fill="#111"/>
<line x1="470.4" y1="539" x2="470.4" y2="551" stroke="#111" stroke-width="0.9"/>
<line x1="467.6" y1="539" x2="473.2" y2="539" stroke="#111" stroke-width="1"/>
<line x1="467.6" y1="551" x2="473.2" y2="551" stroke="#111" stroke-width="1"/>
<circle cx="470.4" cy="539.5" r="1.45" fill="#111"/>
<circle cx="467" cy="546.5" r="1.45" fill="#111"/>
<circle cx="473.8" cy="546.5" r="1.45" fill="#111"/>
<line x1="487.4" y1="484.4" x2="487.4" y2="519.4" stroke="#111" stroke-width="0.9"/>
<line x1="484.6" y1="484.4" x2="490.2" y2="484.4" stroke="#111" stroke-width="1"/>
<line x1="484.6" y1="519.4" x2="490.2" y2="519.4" stroke="#111" stroke-width="1"/>
<circle cx="487.4" cy="486.5" r="1.45" fill="#111"/>
<circle cx="487.4" cy="497.9" r="1.45" fill="#111"/>
<circle cx="487.4" cy="519" r="1.45" fill="#111"/>
<line x1="503.9" y1="543.5" x2="503.9" y2="551.5" stroke="#111" stroke-width="0.9"/>
<line x1="501.1" y1="543.5" x2="506.7" y2="543.5" stroke="#111" stroke-width="1"/>
<line x1="501.1" y1="551.5" x2="506.7" y2="551.5" stroke="#111" stroke-width="1"/>
<circle cx="503.9" cy="543.8" r="1.45" fill="#111"/>
<circle cx="500.5" cy="549.5" r="1.45" fill="#111"/>
<circle cx="507.3" cy="547" r="1.45" fill="#111"/>
<line x1="444.4" y1="469.3" x2="444.4" y2="557.7" stroke="#222" stroke-width="1.25"/>
<line x1="443.8" y1="557.1" x2="512" y2="557.1" stroke="#222" stroke-width="1.3"/>
<line x1="441.8" y1="557.1" x2="444.4" y2="557.1" stroke="#222" stroke-width="0.8"/>
<text x="438.6" y="559.35" font-size="6.2" text-anchor="end" fill="#3a3a3a" font-weight="normal">0</text>
<line x1="441.8" y1="528.84" x2="444.4" y2="528.84" stroke="#222" stroke-width="0.8"/>
<text x="438.6" y="531.09" font-size="6.2" text-anchor="end" fill="#3a3a3a" font-weight="normal">10000</text>
<line x1="441.8" y1="500.58" x2="444.4" y2="500.58" stroke="#222" stroke-width="0.8"/>
<text x="438.6" y="502.83" font-size="6.2" text-anchor="end" fill="#3a3a3a" font-weight="normal">20000</text>
<line x1="441.8" y1="472.32" x2="444.4" y2="472.32" stroke="#222" stroke-width="0.8"/>
<text x="438.6" y="474.57" font-size="6.2" text-anchor="end" fill="#3a3a3a" font-weight="normal">30000</text>
<line x1="454.75" y1="557.1" x2="454.75" y2="559.5" stroke="#222" stroke-width="0.8"/>
<line x1="470.35" y1="557.1" x2="470.35" y2="559.5" stroke="#222" stroke-width="0.8"/>
<line x1="487.3" y1="557.1" x2="487.3" y2="559.5" stroke="#222" stroke-width="0.8"/>
<line x1="503.85" y1="557.1" x2="503.85" y2="559.5" stroke="#222" stroke-width="0.8"/>
<path d="M454.9 531.5 L454.9 474.5 L471.5 474.5 L471.5 539.6" fill="none" stroke="#333" stroke-width="0.9"/>
<text x="463.2" y="473" font-size="6" text-anchor="middle" fill="#333" font-weight="normal">ns</text>
<path d="M487.7 479 L487.7 474.8 L504.4 474.8 L504.4 541" fill="none" stroke="#333" stroke-width="0.9"/>
<text x="496" y="475.4" font-size="6.6" text-anchor="middle" fill="#333" font-weight="normal">*</text>
<text transform="translate(457.3,566.3) rotate(-45)" font-size="6.1" text-anchor="end" fill="#333" font-weight="normal" stroke="#333" stroke-width="0.2">EV</text>
<text transform="translate(472.9,566.3) rotate(-45)" font-size="6.1" text-anchor="end" fill="#333" font-weight="normal" stroke="#333" stroke-width="0.2">EV+NVP2</text>
<text transform="translate(489.9,566.3) rotate(-45)" font-size="6.1" text-anchor="end" fill="#333" font-weight="normal" stroke="#333" stroke-width="0.2">OE</text>
<text transform="translate(506.4,566.3) rotate(-45)" font-size="6.1" text-anchor="end" fill="#333" font-weight="normal" stroke="#333" stroke-width="0.2">OE+NVP2</text>
<text transform="translate(415,514.2) rotate(-90)" font-size="8" text-anchor="middle" fill="#3a3a3a" font-weight="normal" textLength="71.7" lengthAdjust="spacingAndGlyphs" stroke="#3a3a3a" stroke-width="0.1">Median HbF expression</text>
<rect x="0" y="0" width="520" height="1.1" fill="#5a5a5a" stroke="none" stroke-width="0"/>
<rect x="0" y="594.8" width="520" height="1.2" fill="#555" stroke="none" stroke-width="0"/>
<rect x="0" y="0" width="1.2" height="596" fill="#555" stroke="none" stroke-width="0"/>
<rect x="518.8" y="0" width="1.2" height="596" fill="#5a5a5a" stroke="none" stroke-width="0"/>
</svg>
</body></html>
